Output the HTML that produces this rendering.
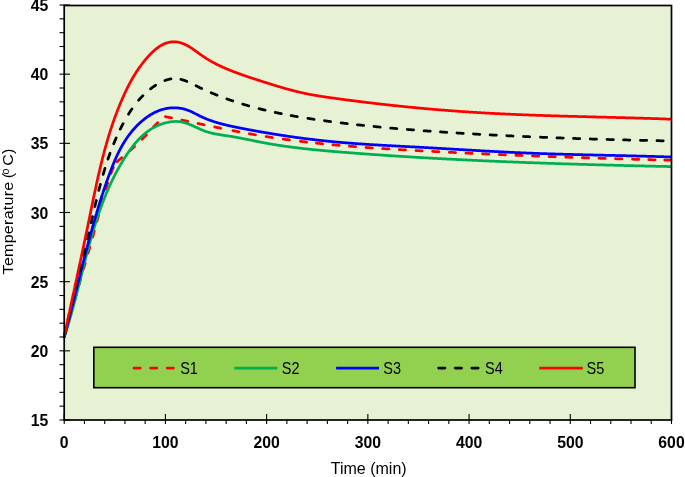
<!DOCTYPE html>
<html><head><meta charset="utf-8"><style>
html,body{margin:0;padding:0;background:#fff;}
body{width:685px;height:477px;overflow:hidden;}
svg{display:block;}
text{font-family:"Liberation Sans",sans-serif;}
svg{will-change:transform;}
</style></head><body>
<svg width="685" height="477" viewBox="0 0 685 477">
<rect x="0" y="0" width="685" height="477" fill="#ffffff"/>
<rect x="64.2" y="5.5" width="607.3" height="414.5" fill="#E7F1D4"/>
<g fill="none" stroke-linejoin="round">
<path d="M64.20,337.00 L64.70,335.23 L65.20,333.46 L65.70,331.70 L66.20,329.93 L66.70,328.16 L67.20,326.40 L67.70,324.63 L68.20,322.86 L68.70,321.10 L69.20,319.33 L69.70,317.57 L70.20,315.81 L70.70,314.04 L71.20,312.28 L71.70,310.51 L72.20,308.75 L72.70,306.99 L73.20,305.23 L73.70,303.47 L74.20,301.70 L74.70,299.94 L75.20,298.18 L75.70,296.42 L76.20,294.66 L76.70,292.90 L77.20,291.14 L77.70,289.38 L78.20,287.63 L78.70,285.87 L79.20,284.11 L79.70,282.35 L80.20,280.59 L80.70,278.84 L81.20,277.08 L81.70,275.32 L82.20,273.57 L82.70,271.81 L83.20,270.05 L83.70,268.30 L84.20,266.54 L84.70,264.79 L85.20,263.03 L85.70,261.28 L86.20,259.53 L86.70,257.77 L87.20,256.02 L87.70,254.27 L88.20,252.51 L88.70,250.76 L89.20,249.01 L89.70,247.26 L90.20,245.50 L90.70,243.75 L91.20,242.00 L91.70,240.25 L92.20,238.50 L92.70,236.75 L93.20,235.00 L93.70,233.24 L94.20,231.46 L94.70,229.66 L95.20,227.85 L95.70,226.02 L96.20,224.18 L96.70,222.33 L97.20,220.47 L97.70,218.60 L98.20,216.73 L98.70,214.86 L99.20,212.99 L99.70,211.12 L100.20,209.25 L100.70,207.38 L101.20,205.52 L101.70,203.67 L102.20,201.83 L102.70,200.01 L103.20,198.20 L103.70,196.40 L104.20,194.62 L104.70,192.86 L105.20,191.13 L105.70,189.41 L106.20,187.73 L106.70,186.07 L107.20,184.43 L107.70,182.84 L108.20,181.27 L108.70,179.74 L109.20,178.24 L109.70,176.79 L110.20,175.37 L110.70,174.00 L111.20,172.66 L111.70,171.34 L112.20,170.06 L112.70,168.84 L113.20,167.70 L113.70,166.64 L114.20,165.68 L114.70,164.82 L115.20,164.03 L115.70,163.31 L116.20,162.66 L116.70,162.09 L117.20,161.59 L117.70,161.14 L118.20,160.73 L118.70,160.32 L119.20,159.91 L119.70,159.48 L120.20,159.05 L120.70,158.61 L121.20,158.18 L121.70,157.75 L122.20,157.32 L122.70,156.89 L123.20,156.46 L123.70,156.03 L124.20,155.61 L124.70,155.18 L125.20,154.75 L125.70,154.32 L126.20,153.89 L126.70,153.46 L127.20,153.03 L127.70,152.60 L128.20,152.16 L128.70,151.73 L129.20,151.29 L129.70,150.85 L130.20,150.40 L130.70,149.96 L131.20,149.51 L131.70,149.06 L132.20,148.60 L132.70,148.14 L133.20,147.68 L133.70,147.22 L134.20,146.76 L134.70,146.29 L135.20,145.82 L135.70,145.35 L136.20,144.88 L136.70,144.41 L137.20,143.93 L137.70,143.46 L138.20,142.98 L138.70,142.50 L139.20,142.01 L139.70,141.53 L140.20,141.04 L140.70,140.55 L141.20,140.06 L141.70,139.56 L142.20,139.06 L142.70,138.56 L143.20,138.06 L143.70,137.56 L144.20,137.05 L144.70,136.54 L145.20,136.02 L145.70,135.49 L146.20,134.96 L146.70,134.43 L147.20,133.88 L147.70,133.34 L148.20,132.79 L148.70,132.24 L149.20,131.69 L149.70,131.13 L150.20,130.58 L150.70,130.03 L151.20,129.48 L151.70,128.93 L152.20,128.38 L152.70,127.84 L153.20,127.30 L153.70,126.77 L154.20,126.24 L154.70,125.72 L155.20,125.20 L155.70,124.70 L156.20,124.20 L156.70,123.70 L157.20,123.20 L157.70,122.71 L158.20,122.22 L158.70,121.73 L159.20,121.25 L159.70,120.77 L160.20,120.29 L160.70,119.81 L161.20,119.34 L161.70,118.87 L162.20,118.41 L162.70,117.94 L163.20,117.48 L163.70,117.03 L164.20,116.57 L164.50,116.50 L165.00,116.60 L165.50,116.70 L166.00,116.80 L166.50,116.90 L167.00,117.00 L167.50,117.10 L168.00,117.20 L168.50,117.31 L169.00,117.41 L169.50,117.51 L170.00,117.61 L170.50,117.71 L171.00,117.81 L171.50,117.92 L172.00,118.02 L172.50,118.12 L173.00,118.22 L173.50,118.33 L174.00,118.43 L174.50,118.53 L175.00,118.64 L175.50,118.74 L176.00,118.84 L176.50,118.95 L177.00,119.05 L177.50,119.16 L178.00,119.26 L178.50,119.36 L179.00,119.47 L179.50,119.57 L180.00,119.68 L180.50,119.78 L181.00,119.89 L181.50,119.99 L182.00,120.09 L182.50,120.20 L183.00,120.30 L183.50,120.41 L184.00,120.51 L184.50,120.62 L185.00,120.72 L185.50,120.83 L186.00,120.94 L186.50,121.04 L187.00,121.15 L187.50,121.25 L188.00,121.36 L188.50,121.46 L189.00,121.57 L189.50,121.67 L190.00,121.78 L190.50,121.89 L191.00,121.99 L191.50,122.10 L192.00,122.20 L192.50,122.31 L193.00,122.42 L193.50,122.52 L194.00,122.63 L194.50,122.73 L195.00,122.84 L195.50,122.94 L196.00,123.05 L196.50,123.16 L197.00,123.26 L197.50,123.37 L198.00,123.47 L198.50,123.58 L199.00,123.69 L199.50,123.79 L200.00,123.90 L200.50,124.00 L201.00,124.11 L201.50,124.22 L202.00,124.32 L202.50,124.43 L203.00,124.53 L203.50,124.64 L204.00,124.74 L204.50,124.85 L205.00,124.95 L205.50,125.06 L206.00,125.16 L206.50,125.27 L207.00,125.37 L207.50,125.48 L208.00,125.58 L208.50,125.69 L209.00,125.79 L209.50,125.90 L210.00,126.00 L210.50,126.11 L211.00,126.21 L211.50,126.32 L212.00,126.42 L212.50,126.53 L213.00,126.63 L213.50,126.73 L214.00,126.84 L214.50,126.94 L215.00,127.05 L215.50,127.15 L216.00,127.25 L216.50,127.36 L217.00,127.46 L217.50,127.56 L218.00,127.67 L218.50,127.77 L219.00,127.87 L219.50,127.97 L220.00,128.08 L220.50,128.18 L221.00,128.28 L221.50,128.38 L222.00,128.48 L222.50,128.59 L223.00,128.69 L223.50,128.79 L224.00,128.89 L224.50,128.99 L225.00,129.09 L225.50,129.19 L226.00,129.29 L226.50,129.39 L227.00,129.49 L227.50,129.59 L228.00,129.69 L228.50,129.79 L229.00,129.89 L229.50,129.99 L230.00,130.09 L230.50,130.19 L231.00,130.29 L231.50,130.39 L232.00,130.49 L232.50,130.58 L233.00,130.68 L233.50,130.78 L234.00,130.88 L234.50,130.97 L235.00,131.07 L235.50,131.17 L236.00,131.26 L236.50,131.36 L237.00,131.46 L237.50,131.55 L238.00,131.65 L238.50,131.74 L239.00,131.84 L239.50,131.93 L240.00,132.03 L240.50,132.12 L241.00,132.22 L241.50,132.31 L242.00,132.40 L242.50,132.50 L243.00,132.59 L243.50,132.68 L244.00,132.78 L244.50,132.87 L245.00,132.96 L245.50,133.05 L246.00,133.14 L246.50,133.24 L247.00,133.33 L247.50,133.42 L248.00,133.51 L248.50,133.60 L249.00,133.69 L249.50,133.78 L250.00,133.86 L250.50,133.95 L251.00,134.04 L251.50,134.13 L252.00,134.22 L252.50,134.31 L253.00,134.39 L253.50,134.48 L254.00,134.57 L254.50,134.65 L255.00,134.74 L255.50,134.82 L256.00,134.91 L256.50,134.99 L257.00,135.08 L257.50,135.16 L258.00,135.25 L258.50,135.33 L259.00,135.41 L259.50,135.50 L260.00,135.58 L260.50,135.66 L261.00,135.74 L261.50,135.83 L262.00,135.91 L262.50,135.99 L263.00,136.07 L263.50,136.15 L264.00,136.23 L264.50,136.31 L265.00,136.39 L265.50,136.47 L266.00,136.55 L266.50,136.63 L267.00,136.71 L267.50,136.78 L268.00,136.86 L268.50,136.94 L269.00,137.02 L269.50,137.09 L270.00,137.17 L270.50,137.25 L271.00,137.32 L271.50,137.40 L272.00,137.47 L272.50,137.55 L273.00,137.62 L273.50,137.70 L274.00,137.77 L274.50,137.85 L275.00,137.92 L275.50,138.00 L276.00,138.07 L276.50,138.14 L277.00,138.21 L277.50,138.29 L278.00,138.36 L278.50,138.43 L279.00,138.50 L279.50,138.57 L280.00,138.64 L280.50,138.72 L281.00,138.79 L281.50,138.86 L282.00,138.93 L282.50,139.00 L283.00,139.06 L283.50,139.13 L284.00,139.20 L284.50,139.27 L285.00,139.34 L285.50,139.41 L286.00,139.48 L286.50,139.54 L287.00,139.61 L287.50,139.68 L288.00,139.74 L288.50,139.81 L289.00,139.88 L289.50,139.94 L290.00,140.01 L290.50,140.07 L291.00,140.14 L291.50,140.20 L292.00,140.27 L292.50,140.33 L293.00,140.40 L293.50,140.46 L294.00,140.52 L294.50,140.59 L295.00,140.65 L295.50,140.71 L296.00,140.78 L296.50,140.84 L297.00,140.90 L297.50,140.96 L298.00,141.02 L298.50,141.09 L299.00,141.15 L299.50,141.21 L300.00,141.27 L300.50,141.33 L301.00,141.39 L301.50,141.45 L302.00,141.51 L302.50,141.57 L303.00,141.63 L303.50,141.69 L304.00,141.74 L304.50,141.80 L305.00,141.86 L305.50,141.92 L306.00,141.98 L306.50,142.04 L307.00,142.09 L307.50,142.15 L308.00,142.21 L308.50,142.26 L309.00,142.32 L309.50,142.38 L310.00,142.43 L310.50,142.49 L311.00,142.54 L311.50,142.60 L312.00,142.65 L312.50,142.71 L313.00,142.76 L313.50,142.82 L314.00,142.87 L314.50,142.93 L315.00,142.98 L315.50,143.03 L316.00,143.09 L316.50,143.14 L317.00,143.19 L317.50,143.24 L318.00,143.30 L318.50,143.35 L319.00,143.40 L319.50,143.45 L320.00,143.50 L320.50,143.56 L321.00,143.61 L321.50,143.66 L322.00,143.71 L322.50,143.76 L323.00,143.81 L323.50,143.86 L324.00,143.91 L324.50,143.96 L325.00,144.01 L325.50,144.06 L326.00,144.11 L326.50,144.16 L327.00,144.21 L327.50,144.25 L328.00,144.30 L328.50,144.35 L329.00,144.40 L329.50,144.45 L330.00,144.49 L330.50,144.54 L331.00,144.59 L331.50,144.64 L332.00,144.68 L332.50,144.73 L333.00,144.78 L333.50,144.82 L334.00,144.87 L334.50,144.91 L335.00,144.96 L335.50,145.01 L336.00,145.05 L336.50,145.10 L337.00,145.14 L337.50,145.19 L338.00,145.23 L338.50,145.28 L339.00,145.32 L339.50,145.36 L340.00,145.41 L340.50,145.45 L341.00,145.50 L341.50,145.54 L342.00,145.58 L342.50,145.63 L343.00,145.67 L343.50,145.71 L344.00,145.75 L344.50,145.80 L345.00,145.84 L345.50,145.88 L346.00,145.92 L346.50,145.96 L347.00,146.01 L347.50,146.05 L348.00,146.09 L348.50,146.13 L349.00,146.17 L349.50,146.21 L350.00,146.25 L350.50,146.29 L351.00,146.33 L351.50,146.37 L352.00,146.41 L352.50,146.45 L353.00,146.49 L353.50,146.53 L354.00,146.57 L354.50,146.61 L355.00,146.65 L355.50,146.69 L356.00,146.73 L356.50,146.77 L357.00,146.80 L357.50,146.84 L358.00,146.88 L358.50,146.92 L359.00,146.96 L359.50,146.99 L360.00,147.03 L360.50,147.07 L361.00,147.11 L361.50,147.14 L362.00,147.18 L362.50,147.22 L363.00,147.26 L363.50,147.29 L364.00,147.33 L364.50,147.36 L365.00,147.40 L365.50,147.44 L366.00,147.47 L366.50,147.51 L367.00,147.54 L367.50,147.58 L368.00,147.62 L368.50,147.65 L369.00,147.69 L369.50,147.72 L370.00,147.76 L370.50,147.79 L371.00,147.83 L371.50,147.86 L372.00,147.90 L372.50,147.93 L373.00,147.96 L373.50,148.00 L374.00,148.03 L374.50,148.07 L375.00,148.10 L375.50,148.13 L376.00,148.17 L376.50,148.20 L377.00,148.23 L377.50,148.27 L378.00,148.30 L378.50,148.33 L379.00,148.37 L379.50,148.40 L380.00,148.43 L380.50,148.46 L381.00,148.50 L381.50,148.53 L382.00,148.56 L382.50,148.59 L383.00,148.62 L383.50,148.66 L384.00,148.69 L384.50,148.72 L385.00,148.75 L385.50,148.78 L386.00,148.81 L386.50,148.85 L387.00,148.88 L387.50,148.91 L388.00,148.94 L388.50,148.97 L389.00,149.00 L389.50,149.03 L390.00,149.06 L390.50,149.09 L391.00,149.12 L391.50,149.15 L392.00,149.18 L392.50,149.21 L393.00,149.25 L393.50,149.28 L394.00,149.31 L394.50,149.33 L395.00,149.36 L395.50,149.39 L396.00,149.42 L396.50,149.45 L397.00,149.48 L397.50,149.51 L398.00,149.54 L398.50,149.57 L399.00,149.60 L399.50,149.63 L400.00,149.66 L400.50,149.69 L401.00,149.72 L401.50,149.75 L402.00,149.77 L402.50,149.80 L403.00,149.83 L403.50,149.86 L404.00,149.89 L404.50,149.92 L405.00,149.95 L405.50,149.97 L406.00,150.00 L406.50,150.03 L407.00,150.06 L407.50,150.09 L408.00,150.11 L408.50,150.14 L409.00,150.17 L409.50,150.20 L410.00,150.23 L410.50,150.25 L411.00,150.28 L411.50,150.31 L412.00,150.34 L412.50,150.36 L413.00,150.39 L413.50,150.42 L414.00,150.44 L414.50,150.47 L415.00,150.50 L415.50,150.53 L416.00,150.55 L416.50,150.58 L417.00,150.61 L417.50,150.63 L418.00,150.66 L418.50,150.69 L419.00,150.72 L419.50,150.74 L420.00,150.77 L420.50,150.80 L421.00,150.82 L421.50,150.85 L422.00,150.88 L422.50,150.90 L423.00,150.93 L423.50,150.96 L424.00,150.98 L424.50,151.01 L425.00,151.03 L425.50,151.06 L426.00,151.09 L426.50,151.11 L427.00,151.14 L427.50,151.17 L428.00,151.19 L428.50,151.22 L429.00,151.24 L429.50,151.27 L430.00,151.30 L430.50,151.32 L431.00,151.35 L431.50,151.37 L432.00,151.40 L432.50,151.43 L433.00,151.45 L433.50,151.48 L434.00,151.50 L434.50,151.53 L435.00,151.55 L435.50,151.58 L436.00,151.61 L436.50,151.63 L437.00,151.66 L437.50,151.68 L438.00,151.71 L438.50,151.73 L439.00,151.76 L439.50,151.78 L440.00,151.81 L440.50,151.83 L441.00,151.86 L441.50,151.89 L442.00,151.91 L442.50,151.94 L443.00,151.96 L443.50,151.99 L444.00,152.01 L444.50,152.04 L445.00,152.06 L445.50,152.09 L446.00,152.11 L446.50,152.14 L447.00,152.16 L447.50,152.19 L448.00,152.21 L448.50,152.23 L449.00,152.26 L449.50,152.28 L450.00,152.31 L450.50,152.33 L451.00,152.36 L451.50,152.38 L452.00,152.41 L452.50,152.43 L453.00,152.46 L453.50,152.48 L454.00,152.50 L454.50,152.53 L455.00,152.55 L455.50,152.58 L456.00,152.60 L456.50,152.63 L457.00,152.65 L457.50,152.67 L458.00,152.70 L458.50,152.72 L459.00,152.75 L459.50,152.77 L460.00,152.79 L460.50,152.82 L461.00,152.84 L461.50,152.87 L462.00,152.89 L462.50,152.91 L463.00,152.94 L463.50,152.96 L464.00,152.98 L464.50,153.01 L465.00,153.03 L465.50,153.06 L466.00,153.08 L466.50,153.10 L467.00,153.13 L467.50,153.15 L468.00,153.17 L468.50,153.20 L469.00,153.22 L469.50,153.24 L470.00,153.27 L470.50,153.29 L471.00,153.31 L471.50,153.34 L472.00,153.36 L472.50,153.38 L473.00,153.40 L473.50,153.43 L474.00,153.45 L474.50,153.47 L475.00,153.50 L475.50,153.52 L476.00,153.54 L476.50,153.57 L477.00,153.59 L477.50,153.61 L478.00,153.63 L478.50,153.66 L479.00,153.68 L479.50,153.70 L480.00,153.72 L480.50,153.75 L481.00,153.77 L481.50,153.79 L482.00,153.81 L482.50,153.84 L483.00,153.86 L483.50,153.88 L484.00,153.90 L484.50,153.93 L485.00,153.95 L485.50,153.97 L486.00,153.99 L486.50,154.01 L487.00,154.04 L487.50,154.06 L488.00,154.08 L488.50,154.10 L489.00,154.13 L489.50,154.15 L490.00,154.17 L490.50,154.19 L491.00,154.21 L491.50,154.23 L492.00,154.26 L492.50,154.28 L493.00,154.30 L493.50,154.32 L494.00,154.34 L494.50,154.37 L495.00,154.39 L495.50,154.41 L496.00,154.43 L496.50,154.45 L497.00,154.47 L497.50,154.49 L498.00,154.52 L498.50,154.54 L499.00,154.56 L499.50,154.58 L500.00,154.60 L500.50,154.62 L501.00,154.64 L501.50,154.67 L502.00,154.69 L502.50,154.71 L503.00,154.73 L503.50,154.75 L504.00,154.77 L504.50,154.79 L505.00,154.81 L505.50,154.83 L506.00,154.85 L506.50,154.88 L507.00,154.90 L507.50,154.92 L508.00,154.94 L508.50,154.96 L509.00,154.98 L509.50,155.00 L510.00,155.02 L510.50,155.04 L511.00,155.06 L511.50,155.08 L512.00,155.10 L512.50,155.12 L513.00,155.14 L513.50,155.17 L514.00,155.19 L514.50,155.21 L515.00,155.23 L515.50,155.25 L516.00,155.27 L516.50,155.29 L517.00,155.31 L517.50,155.33 L518.00,155.35 L518.50,155.37 L519.00,155.39 L519.50,155.41 L520.00,155.43 L520.50,155.45 L521.00,155.47 L521.50,155.49 L522.00,155.51 L522.50,155.53 L523.00,155.55 L523.50,155.57 L524.00,155.59 L524.50,155.61 L525.00,155.63 L525.50,155.65 L526.00,155.67 L526.50,155.69 L527.00,155.71 L527.50,155.73 L528.00,155.75 L528.50,155.77 L529.00,155.78 L529.50,155.80 L530.00,155.82 L530.50,155.84 L531.00,155.86 L531.50,155.88 L532.00,155.90 L532.50,155.92 L533.00,155.94 L533.50,155.96 L534.00,155.98 L534.50,156.00 L535.00,156.02 L535.50,156.04 L536.00,156.06 L536.50,156.07 L537.00,156.09 L537.50,156.11 L538.00,156.13 L538.50,156.15 L539.00,156.17 L539.50,156.19 L540.00,156.21 L540.50,156.23 L541.00,156.24 L541.50,156.26 L542.00,156.28 L542.50,156.30 L543.00,156.32 L543.50,156.34 L544.00,156.36 L544.50,156.38 L545.00,156.39 L545.50,156.41 L546.00,156.43 L546.50,156.45 L547.00,156.47 L547.50,156.49 L548.00,156.51 L548.50,156.52 L549.00,156.54 L549.50,156.56 L550.00,156.58 L550.50,156.60 L551.00,156.61 L551.50,156.63 L552.00,156.65 L552.50,156.67 L553.00,156.69 L553.50,156.71 L554.00,156.72 L554.50,156.74 L555.00,156.76 L555.50,156.78 L556.00,156.80 L556.50,156.81 L557.00,156.83 L557.50,156.85 L558.00,156.87 L558.50,156.89 L559.00,156.90 L559.50,156.92 L560.00,156.94 L560.50,156.96 L561.00,156.97 L561.50,156.99 L562.00,157.01 L562.50,157.03 L563.00,157.04 L563.50,157.06 L564.00,157.08 L564.50,157.10 L565.00,157.11 L565.50,157.13 L566.00,157.15 L566.50,157.17 L567.00,157.18 L567.50,157.20 L568.00,157.22 L568.50,157.24 L569.00,157.25 L569.50,157.27 L570.00,157.29 L570.50,157.30 L571.00,157.32 L571.50,157.34 L572.00,157.36 L572.50,157.37 L573.00,157.39 L573.50,157.41 L574.00,157.42 L574.50,157.44 L575.00,157.46 L575.50,157.47 L576.00,157.49 L576.50,157.51 L577.00,157.52 L577.50,157.54 L578.00,157.56 L578.50,157.57 L579.00,157.59 L579.50,157.61 L580.00,157.62 L580.50,157.64 L581.00,157.66 L581.50,157.67 L582.00,157.69 L582.50,157.71 L583.00,157.72 L583.50,157.74 L584.00,157.76 L584.50,157.77 L585.00,157.79 L585.50,157.81 L586.00,157.82 L586.50,157.84 L587.00,157.85 L587.50,157.87 L588.00,157.89 L588.50,157.90 L589.00,157.92 L589.50,157.94 L590.00,157.95 L590.50,157.97 L591.00,157.98 L591.50,158.00 L592.00,158.02 L592.50,158.03 L593.00,158.05 L593.50,158.06 L594.00,158.08 L594.50,158.10 L595.00,158.11 L595.50,158.13 L596.00,158.14 L596.50,158.16 L597.00,158.17 L597.50,158.19 L598.00,158.21 L598.50,158.22 L599.00,158.24 L599.50,158.25 L600.00,158.27 L600.50,158.28 L601.00,158.30 L601.50,158.31 L602.00,158.33 L602.50,158.35 L603.00,158.36 L603.50,158.38 L604.00,158.39 L604.50,158.41 L605.00,158.42 L605.50,158.44 L606.00,158.45 L606.50,158.47 L607.00,158.48 L607.50,158.50 L608.00,158.51 L608.50,158.53 L609.00,158.54 L609.50,158.56 L610.00,158.57 L610.50,158.59 L611.00,158.60 L611.50,158.62 L612.00,158.63 L612.50,158.65 L613.00,158.66 L613.50,158.68 L614.00,158.69 L614.50,158.71 L615.00,158.72 L615.50,158.74 L616.00,158.75 L616.50,158.77 L617.00,158.78 L617.50,158.80 L618.00,158.81 L618.50,158.83 L619.00,158.84 L619.50,158.86 L620.00,158.87 L620.50,158.88 L621.00,158.90 L621.50,158.91 L622.00,158.93 L622.50,158.94 L623.00,158.96 L623.50,158.97 L624.00,158.99 L624.50,159.00 L625.00,159.01 L625.50,159.03 L626.00,159.04 L626.50,159.06 L627.00,159.07 L627.50,159.09 L628.00,159.10 L628.50,159.11 L629.00,159.13 L629.50,159.14 L630.00,159.16 L630.50,159.17 L631.00,159.18 L631.50,159.20 L632.00,159.21 L632.50,159.23 L633.00,159.24 L633.50,159.25 L634.00,159.27 L634.50,159.28 L635.00,159.30 L635.50,159.31 L636.00,159.32 L636.50,159.34 L637.00,159.35 L637.50,159.36 L638.00,159.38 L638.50,159.39 L639.00,159.41 L639.50,159.42 L640.00,159.43 L640.50,159.45 L641.00,159.46 L641.50,159.47 L642.00,159.49 L642.50,159.50 L643.00,159.51 L643.50,159.53 L644.00,159.54 L644.50,159.55 L645.00,159.57 L645.50,159.58 L646.00,159.59 L646.50,159.61 L647.00,159.62 L647.50,159.63 L648.00,159.65 L648.50,159.66 L649.00,159.67 L649.50,159.69 L650.00,159.70 L650.50,159.71 L651.00,159.73 L651.50,159.74 L652.00,159.75 L652.50,159.77 L653.00,159.78 L653.50,159.79 L654.00,159.80 L654.50,159.82 L655.00,159.83 L655.50,159.84 L656.00,159.86 L656.50,159.87 L657.00,159.88 L657.50,159.89 L658.00,159.91 L658.50,159.92 L659.00,159.93 L659.50,159.95 L660.00,159.96 L660.50,159.97 L661.00,159.98 L661.50,160.00 L662.00,160.01 L662.50,160.02 L663.00,160.03 L663.50,160.05 L664.00,160.06 L664.50,160.07 L665.00,160.08 L665.50,160.10 L666.00,160.11 L666.50,160.12 L667.00,160.13 L667.50,160.15 L668.00,160.16 L668.50,160.17 L669.00,160.18 L669.50,160.19 L670.00,160.21 L670.50,160.22 L671.00,160.23 L671.50,160.24" stroke="#FF0000" stroke-width="2.75" stroke-dasharray="0.00 4.31 6.25 10.35 6.25 10.35 6.25 10.35 6.25 10.35 6.25 10.35 6.25 10.35 6.25 10.35 6.25 10.35 6.25 10.35 6.25 10.35 6.25 6.90 6.25 10.68 6.25 10.50 6.25 10.17 6.25 10.25 6.25 10.40 6.25 10.46 6.25 10.76 6.25 12.26 6.25 10.53 6.25 10.73 6.25 11.06 6.25 11.06 6.25 9.85 6.25 10.33 6.25 10.31 6.25 10.43 6.25 10.43 6.25 10.43 6.25 10.43 6.25 10.43 6.25 10.42 6.25 10.42 6.25 10.40 6.25 10.40 6.25 10.40 6.25 10.40 6.25 10.36 6.25 10.46 6.25 10.36 6.25 10.36 6.25 10.36 6.25 10.71 6.25 10.06 6.25 9.66 6.25 50.53" stroke-linecap="round"/>
<path d="M64.20,337.00 L64.36,336.53 L64.51,336.05 L64.67,335.58 L64.83,335.10 L64.98,334.63 L65.14,334.16 L65.29,333.68 L65.44,333.21 L65.60,332.73 L65.75,332.26 L65.90,331.78 L66.06,331.31 L66.21,330.83 L66.36,330.35 L66.51,329.88 L66.66,329.40 L66.81,328.92 L66.96,328.45 L67.10,327.97 L67.25,327.49 L67.40,327.02 L67.55,326.54 L67.69,326.06 L67.84,325.58 L67.98,325.10 L68.13,324.63 L68.27,324.15 L68.42,323.67 L68.56,323.19 L68.70,322.71 L68.85,322.23 L68.99,321.75 L69.13,321.27 L69.27,320.79 L69.41,320.31 L69.55,319.83 L69.69,319.35 L69.83,318.87 L69.97,318.39 L70.11,317.91 L70.25,317.43 L70.39,316.95 L70.53,316.47 L70.66,315.99 L70.80,315.51 L70.94,315.03 L71.07,314.55 L71.21,314.06 L71.34,313.58 L71.48,313.10 L71.61,312.62 L71.75,312.14 L71.88,311.65 L72.02,311.17 L72.15,310.69 L72.28,310.21 L72.42,309.72 L72.55,309.24 L72.68,308.76 L72.81,308.27 L72.95,307.79 L73.08,307.31 L73.21,306.82 L73.34,306.34 L73.47,305.86 L73.60,305.37 L73.73,304.89 L73.86,304.41 L73.99,303.92 L74.12,303.44 L74.25,302.95 L74.38,302.47 L74.50,301.98 L74.63,301.50 L74.76,301.01 L74.89,300.53 L75.02,300.05 L75.14,299.56 L75.27,299.08 L75.40,298.59 L75.52,298.11 L75.65,297.62 L75.78,297.13 L75.90,296.65 L76.03,296.16 L76.15,295.68 L76.28,295.19 L76.40,294.71 L76.53,294.22 L76.65,293.74 L76.78,293.25 L76.90,292.76 L77.03,292.28 L77.15,291.79 L77.28,291.31 L77.40,290.82 L77.53,290.33 L77.65,289.85 L77.77,289.36 L77.90,288.88 L78.02,288.39 L78.14,287.90 L78.27,287.42 L78.39,286.93 L78.51,286.44 L78.64,285.96 L78.76,285.47 L78.88,284.98 L79.00,284.50 L79.13,284.01 L79.25,283.52 L79.37,283.04 L79.49,282.55 L79.62,282.06 L79.74,281.58 L79.86,281.09 L79.98,280.60 L80.11,280.12 L80.23,279.63 L80.35,279.14 L80.47,278.66 L80.59,278.17 L80.72,277.68 L80.84,277.20 L80.96,276.71 L81.08,276.22 L81.20,275.74 L81.33,275.25 L81.45,274.76 L81.57,274.28 L81.69,273.79 L81.82,273.30 L81.94,272.82 L82.06,272.33 L82.18,271.84 L82.30,271.36 L82.43,270.87 L82.55,270.38 L82.67,269.90 L82.79,269.41 L82.92,268.92 L83.04,268.44 L83.16,267.95 L83.29,267.46 L83.41,266.98 L83.53,266.49 L83.65,266.00 L83.78,265.52 L83.90,265.03 L84.02,264.55 L84.15,264.06 L84.27,263.57 L84.40,263.09 L84.52,262.60 L84.64,262.12 L84.77,261.63 L84.89,261.14 L85.02,260.66 L85.14,260.17 L85.27,259.69 L85.39,259.20 L85.52,258.72 L85.64,258.23 L85.77,257.74 L85.89,257.26 L86.02,256.77 L86.15,256.29 L86.27,255.80 L86.40,255.32 L86.52,254.83 L86.65,254.35 L86.78,253.86 L86.91,253.38 L87.03,252.89 L87.16,252.41 L87.29,251.93 L87.42,251.44 L87.55,250.96 L87.67,250.47 L87.80,249.99 L87.93,249.51 L88.06,249.02 L88.19,248.54 L88.32,248.05 L88.45,247.57 L88.58,247.09 L88.71,246.60 L88.85,246.12 L88.98,245.64 L89.11,245.15 L89.24,244.67 L89.37,244.19 L89.51,243.71 L89.64,243.22 L89.77,242.74 L89.91,242.26 L90.04,241.78 L90.17,241.29 L90.31,240.81 L90.44,240.33 L90.58,239.85 L90.71,239.37 L90.85,238.89 L90.99,238.41 L91.12,237.92 L91.26,237.44 L91.40,236.96 L91.54,236.48 L91.67,236.00 L91.81,235.52 L91.95,235.04 L92.09,234.56 L92.23,234.08 L92.37,233.60 L92.51,233.12 L92.65,232.64 L92.79,232.16 L92.94,231.69 L93.08,231.21 L93.22,230.73 L93.36,230.25 L93.51,229.77 L93.65,229.29 L93.80,228.81 L93.94,228.34 L94.09,227.86 L94.23,227.38 L94.38,226.90 L94.53,226.43 L94.67,225.95 L94.82,225.47 L94.97,225.00 L95.12,224.52 L95.27,224.04 L95.42,223.57 L95.57,223.09 L95.72,222.62 L95.87,222.14 L96.02,221.67 L96.17,221.19 L96.33,220.72 L96.48,220.24 L96.64,219.77 L96.79,219.29 L96.95,218.82 L97.10,218.35 L97.26,217.87 L97.41,217.40 L97.57,216.93 L97.73,216.45 L97.89,215.98 L98.05,215.51 L98.21,215.04 L98.37,214.56 L98.53,214.09 L98.69,213.62 L98.85,213.15 L99.01,212.68 L99.18,212.21 L99.34,211.74 L99.51,211.27 L99.67,210.80 L99.84,210.33 L100.00,209.86 L100.17,209.39 L100.34,208.92 L100.51,208.45 L100.68,207.98 L100.85,207.51 L101.02,207.05 L101.19,206.58 L101.36,206.11 L101.53,205.64 L101.71,205.18 L101.88,204.71 L102.05,204.24 L102.23,203.78 L102.40,203.31 L102.58,202.85 L102.76,202.38 L102.94,201.92 L103.12,201.45 L103.30,200.99 L103.48,200.52 L103.66,200.06 L103.84,199.59 L104.02,199.13 L104.20,198.67 L104.39,198.20 L104.57,197.74 L104.76,197.28 L104.94,196.82 L105.13,196.36 L105.32,195.90 L105.51,195.43 L105.70,194.97 L105.89,194.51 L106.08,194.05 L106.27,193.59 L106.46,193.13 L106.66,192.67 L106.85,192.22 L107.05,191.76 L107.24,191.30 L107.44,190.84 L107.64,190.38 L107.83,189.93 L108.03,189.47 L108.23,189.01 L108.43,188.56 L108.64,188.10 L108.84,187.64 L109.04,187.19 L109.25,186.73 L109.45,186.28 L109.66,185.82 L109.86,185.37 L110.07,184.92 L110.28,184.46 L110.49,184.01 L110.70,183.56 L110.91,183.11 L111.12,182.65 L111.34,182.20 L111.55,181.75 L111.77,181.30 L111.98,180.85 L112.20,180.40 L112.42,179.95 L112.64,179.50 L112.86,179.05 L113.08,178.60 L113.30,178.15 L113.52,177.71 L113.75,177.26 L113.97,176.81 L114.20,176.37 L114.42,175.92 L114.65,175.47 L114.88,175.03 L115.11,174.58 L115.34,174.14 L115.57,173.69 L115.80,173.25 L116.04,172.80 L116.27,172.36 L116.51,171.92 L116.74,171.48 L116.98,171.03 L117.22,170.59 L117.46,170.15 L117.70,169.71 L117.94,169.27 L118.19,168.83 L118.43,168.39 L118.67,167.95 L118.92,167.51 L119.17,167.07 L119.42,166.63 L119.67,166.20 L119.92,165.76 L120.17,165.32 L120.42,164.89 L120.67,164.45 L120.93,164.01 L121.18,163.58 L121.44,163.14 L121.70,162.71 L121.96,162.28 L122.22,161.84 L122.48,161.41 L122.74,160.98 L123.01,160.54 L123.27,160.11 L123.54,159.68 L123.81,159.25 L124.07,158.82 L124.34,158.39 L124.61,157.96 L124.89,157.53 L125.16,157.11 L125.44,156.68 L125.71,156.25 L125.99,155.83 L126.27,155.40 L126.55,154.98 L126.83,154.55 L127.11,154.13 L127.39,153.71 L127.68,153.29 L127.96,152.87 L128.25,152.45 L128.54,152.04 L128.83,151.62 L129.12,151.21 L129.42,150.79 L129.71,150.38 L130.01,149.97 L130.31,149.56 L130.61,149.15 L130.91,148.75 L131.21,148.34 L131.52,147.94 L131.82,147.54 L132.13,147.14 L132.44,146.74 L132.75,146.34 L133.06,145.95 L133.37,145.55 L133.69,145.16 L134.00,144.77 L134.32,144.38 L134.64,144.00 L134.97,143.61 L135.29,143.23 L135.61,142.85 L135.94,142.47 L136.27,142.09 L136.60,141.72 L136.93,141.35 L137.27,140.98 L137.60,140.61 L137.94,140.24 L138.28,139.88 L138.62,139.52 L138.97,139.16 L139.31,138.80 L139.66,138.45 L140.01,138.10 L140.36,137.75 L140.71,137.40 L141.07,137.06 L141.42,136.72 L141.78,136.38 L142.14,136.05 L142.51,135.71 L142.87,135.38 L143.24,135.06 L143.61,134.73 L143.98,134.41 L144.35,134.09 L144.73,133.78 L145.10,133.46 L145.48,133.15 L145.86,132.85 L146.25,132.54 L146.63,132.24 L147.02,131.95 L147.41,131.65 L147.80,131.36 L148.20,131.08 L148.60,130.79 L148.99,130.51 L149.40,130.24 L149.80,129.96 L150.21,129.69 L150.61,129.43 L151.02,129.16 L151.44,128.90 L151.85,128.65 L152.27,128.40 L152.69,128.15 L153.11,127.91 L153.54,127.66 L153.96,127.43 L154.39,127.20 L154.82,126.97 L155.26,126.74 L155.70,126.52 L156.13,126.30 L156.58,126.09 L157.02,125.88 L157.47,125.68 L157.92,125.48 L158.37,125.28 L158.82,125.09 L159.28,124.90 L159.74,124.72 L160.20,124.54 L160.67,124.37 L161.13,124.20 L161.60,124.03 L162.08,123.87 L162.55,123.71 L163.03,123.56 L163.51,123.41 L163.99,123.27 L164.48,123.13 L164.97,123.00 L165.46,122.87 L165.96,122.75 L166.45,122.63 L166.95,122.52 L167.46,122.41 L167.96,122.30 L168.47,122.21 L168.98,122.11 L169.49,122.03 L170.00,121.95 L170.51,121.87 L171.03,121.80 L171.54,121.74 L172.06,121.68 L172.57,121.63 L173.09,121.59 L173.61,121.55 L174.12,121.52 L174.64,121.50 L175.15,121.49 L175.67,121.48 L176.18,121.48 L176.69,121.48 L177.21,121.50 L177.72,121.52 L178.22,121.55 L178.73,121.59 L179.23,121.64 L179.73,121.69 L180.23,121.76 L180.73,121.83 L181.22,121.91 L181.71,122.00 L182.20,122.10 L182.69,122.20 L183.17,122.31 L183.66,122.43 L184.14,122.55 L184.61,122.69 L185.09,122.82 L185.56,122.97 L186.04,123.12 L186.51,123.27 L186.98,123.43 L187.45,123.60 L187.92,123.77 L188.38,123.94 L188.85,124.12 L189.31,124.30 L189.77,124.49 L190.24,124.68 L190.70,124.87 L191.16,125.07 L191.62,125.26 L192.08,125.46 L192.54,125.67 L193.00,125.87 L193.45,126.08 L193.91,126.29 L194.37,126.49 L194.83,126.70 L195.28,126.92 L195.74,127.13 L196.20,127.34 L196.65,127.55 L197.11,127.76 L197.57,127.97 L198.02,128.18 L198.48,128.39 L198.94,128.60 L199.40,128.81 L199.86,129.02 L200.32,129.22 L200.78,129.42 L201.24,129.62 L201.70,129.82 L202.16,130.01 L202.62,130.20 L203.09,130.39 L203.55,130.58 L204.02,130.76 L204.48,130.94 L204.95,131.11 L205.42,131.28 L205.89,131.44 L206.36,131.60 L206.84,131.76 L207.31,131.91 L207.79,132.05 L208.26,132.20 L208.74,132.34 L209.22,132.47 L209.70,132.60 L210.18,132.73 L210.66,132.86 L211.14,132.98 L211.62,133.10 L212.11,133.21 L212.59,133.33 L213.08,133.43 L213.56,133.54 L214.05,133.65 L214.54,133.75 L215.03,133.85 L215.52,133.94 L216.01,134.04 L216.50,134.13 L216.99,134.22 L217.48,134.31 L217.97,134.40 L218.46,134.48 L218.96,134.57 L219.45,134.65 L219.95,134.73 L220.44,134.81 L220.93,134.89 L221.43,134.97 L221.92,135.05 L222.42,135.12 L222.92,135.20 L223.41,135.27 L223.91,135.35 L224.40,135.42 L224.90,135.49 L225.40,135.57 L225.89,135.64 L226.39,135.72 L226.89,135.79 L227.38,135.86 L227.88,135.94 L228.37,136.01 L228.87,136.09 L229.37,136.17 L229.86,136.24 L230.36,136.32 L230.85,136.40 L231.35,136.48 L231.84,136.56 L232.34,136.65 L232.83,136.73 L233.33,136.81 L233.82,136.90 L234.32,136.98 L234.81,137.07 L235.31,137.16 L235.80,137.25 L236.29,137.33 L236.79,137.42 L237.28,137.51 L237.77,137.61 L238.27,137.70 L238.76,137.79 L239.25,137.88 L239.74,137.97 L240.24,138.07 L240.73,138.16 L241.22,138.26 L241.71,138.35 L242.20,138.45 L242.70,138.54 L243.19,138.64 L243.68,138.74 L244.17,138.83 L244.66,138.93 L245.15,139.03 L245.65,139.13 L246.14,139.23 L246.63,139.33 L247.12,139.42 L247.61,139.52 L248.10,139.62 L248.59,139.72 L249.08,139.82 L249.57,139.92 L250.06,140.02 L250.56,140.12 L251.05,140.22 L251.54,140.32 L252.03,140.42 L252.52,140.52 L253.01,140.62 L253.50,140.72 L253.99,140.82 L254.48,140.92 L254.97,141.02 L255.46,141.12 L255.95,141.22 L256.44,141.32 L256.93,141.41 L257.43,141.51 L257.92,141.61 L258.41,141.71 L258.90,141.81 L259.39,141.90 L259.88,142.00 L260.37,142.09 L260.86,142.19 L261.35,142.29 L261.84,142.38 L262.33,142.48 L262.83,142.57 L263.32,142.66 L263.81,142.75 L264.30,142.85 L264.79,142.94 L265.28,143.03 L265.78,143.12 L266.27,143.21 L266.76,143.30 L267.25,143.39 L267.74,143.48 L268.24,143.56 L268.73,143.65 L269.22,143.74 L269.71,143.82 L270.21,143.91 L270.70,143.99 L271.19,144.08 L271.68,144.16 L272.18,144.24 L272.67,144.33 L273.16,144.41 L273.66,144.49 L274.15,144.57 L274.64,144.65 L275.14,144.73 L275.63,144.81 L276.12,144.89 L276.62,144.97 L277.11,145.05 L277.60,145.13 L278.10,145.20 L278.59,145.28 L279.08,145.36 L279.58,145.43 L280.07,145.51 L280.57,145.58 L281.06,145.66 L281.55,145.73 L282.05,145.80 L282.54,145.88 L283.04,145.95 L283.53,146.02 L284.03,146.09 L284.52,146.16 L285.02,146.24 L285.51,146.31 L286.01,146.38 L286.50,146.44 L286.99,146.51 L287.49,146.58 L287.98,146.65 L288.48,146.72 L288.98,146.78 L289.47,146.85 L289.97,146.92 L290.46,146.98 L290.96,147.05 L291.45,147.11 L291.95,147.18 L292.44,147.24 L292.94,147.31 L293.43,147.37 L293.93,147.43 L294.43,147.50 L294.92,147.56 L295.42,147.62 L295.91,147.68 L296.41,147.74 L296.91,147.81 L297.40,147.87 L297.90,147.93 L298.39,147.99 L298.89,148.04 L299.39,148.10 L299.88,148.16 L300.38,148.22 L300.88,148.28 L301.37,148.34 L301.87,148.39 L302.36,148.45 L302.86,148.51 L303.36,148.56 L303.85,148.62 L304.35,148.68 L304.85,148.73 L305.34,148.79 L305.84,148.84 L306.34,148.89 L306.84,148.95 L307.33,149.00 L307.83,149.06 L308.33,149.11 L308.82,149.16 L309.32,149.21 L309.82,149.27 L310.32,149.32 L310.81,149.37 L311.31,149.42 L311.81,149.47 L312.30,149.52 L312.80,149.57 L313.30,149.62 L313.80,149.67 L314.29,149.72 L314.79,149.77 L315.29,149.82 L315.79,149.87 L316.29,149.92 L316.78,149.97 L317.28,150.02 L317.78,150.06 L318.28,150.11 L318.77,150.16 L319.27,150.21 L319.77,150.25 L320.27,150.30 L320.77,150.35 L321.26,150.39 L321.76,150.44 L322.26,150.49 L322.76,150.53 L323.26,150.58 L323.75,150.62 L324.25,150.67 L324.75,150.71 L325.25,150.76 L325.75,150.80 L326.25,150.85 L326.74,150.89 L327.24,150.93 L327.74,150.98 L328.24,151.02 L328.74,151.06 L329.23,151.11 L329.73,151.15 L330.23,151.19 L330.73,151.24 L331.23,151.28 L331.73,151.32 L332.23,151.36 L332.72,151.40 L333.22,151.45 L333.72,151.49 L334.22,151.53 L334.72,151.57 L335.22,151.61 L335.72,151.65 L336.21,151.70 L336.71,151.74 L337.21,151.78 L337.71,151.82 L338.21,151.86 L338.71,151.90 L339.21,151.94 L339.70,151.98 L340.20,152.02 L340.70,152.06 L341.20,152.10 L341.70,152.14 L342.20,152.18 L342.70,152.22 L343.20,152.26 L343.69,152.30 L344.19,152.34 L344.69,152.38 L345.19,152.42 L345.69,152.45 L346.19,152.49 L346.69,152.53 L347.19,152.57 L347.68,152.61 L348.18,152.65 L348.68,152.69 L349.18,152.73 L349.68,152.77 L350.18,152.80 L350.68,152.84 L351.18,152.88 L351.67,152.92 L352.17,152.96 L352.67,152.99 L353.17,153.03 L353.67,153.07 L354.17,153.11 L354.67,153.15 L355.17,153.18 L355.67,153.22 L356.16,153.26 L356.66,153.30 L357.16,153.33 L357.66,153.37 L358.16,153.41 L358.66,153.45 L359.16,153.48 L359.66,153.52 L360.16,153.56 L360.65,153.60 L361.15,153.63 L361.65,153.67 L362.15,153.71 L362.65,153.74 L363.15,153.78 L363.65,153.82 L364.15,153.85 L364.65,153.89 L365.14,153.92 L365.64,153.96 L366.14,154.00 L366.64,154.03 L367.14,154.07 L367.64,154.11 L368.14,154.14 L368.64,154.18 L369.14,154.21 L369.64,154.25 L370.13,154.28 L370.63,154.32 L371.13,154.36 L371.63,154.39 L372.13,154.43 L372.63,154.46 L373.13,154.50 L373.63,154.53 L374.13,154.57 L374.63,154.60 L375.12,154.64 L375.62,154.67 L376.12,154.71 L376.62,154.74 L377.12,154.78 L377.62,154.81 L378.12,154.85 L378.62,154.88 L379.12,154.91 L379.62,154.95 L380.12,154.98 L380.61,155.02 L381.11,155.05 L381.61,155.09 L382.11,155.12 L382.61,155.15 L383.11,155.19 L383.61,155.22 L384.11,155.26 L384.61,155.29 L385.11,155.32 L385.61,155.36 L386.10,155.39 L386.60,155.42 L387.10,155.46 L387.60,155.49 L388.10,155.52 L388.60,155.56 L389.10,155.59 L389.60,155.62 L390.10,155.66 L390.60,155.69 L391.10,155.72 L391.59,155.75 L392.09,155.79 L392.59,155.82 L393.09,155.85 L393.59,155.88 L394.09,155.92 L394.59,155.95 L395.09,155.98 L395.59,156.01 L396.09,156.05 L396.59,156.08 L397.09,156.11 L397.59,156.14 L398.08,156.17 L398.58,156.21 L399.08,156.24 L399.58,156.27 L400.08,156.30 L400.58,156.33 L401.08,156.36 L401.58,156.40 L402.08,156.43 L402.58,156.46 L403.08,156.49 L403.58,156.52 L404.08,156.55 L404.57,156.58 L405.07,156.61 L405.57,156.65 L406.07,156.68 L406.57,156.71 L407.07,156.74 L407.57,156.77 L408.07,156.80 L408.57,156.83 L409.07,156.86 L409.57,156.89 L410.07,156.92 L410.57,156.95 L411.07,156.98 L411.56,157.01 L412.06,157.04 L412.56,157.07 L413.06,157.10 L413.56,157.13 L414.06,157.16 L414.56,157.19 L415.06,157.22 L415.56,157.25 L416.06,157.28 L416.56,157.31 L417.06,157.34 L417.56,157.37 L418.06,157.40 L418.56,157.43 L419.05,157.46 L419.55,157.49 L420.05,157.52 L420.55,157.55 L421.05,157.57 L421.55,157.60 L422.05,157.63 L422.55,157.66 L423.05,157.69 L423.55,157.72 L424.05,157.75 L424.55,157.78 L425.05,157.81 L425.55,157.83 L426.05,157.86 L426.55,157.89 L427.05,157.92 L427.54,157.95 L428.04,157.98 L428.54,158.00 L429.04,158.03 L429.54,158.06 L430.04,158.09 L430.54,158.12 L431.04,158.14 L431.54,158.17 L432.04,158.20 L432.54,158.23 L433.04,158.26 L433.54,158.28 L434.04,158.31 L434.54,158.34 L435.04,158.37 L435.54,158.39 L436.04,158.42 L436.54,158.45 L437.03,158.47 L437.53,158.50 L438.03,158.53 L438.53,158.56 L439.03,158.58 L439.53,158.61 L440.03,158.64 L440.53,158.66 L441.03,158.69 L441.53,158.72 L442.03,158.74 L442.53,158.77 L443.03,158.80 L443.53,158.82 L444.03,158.85 L444.53,158.88 L445.03,158.90 L445.53,158.93 L446.03,158.95 L446.53,158.98 L447.03,159.01 L447.52,159.03 L448.02,159.06 L448.52,159.09 L449.02,159.11 L449.52,159.14 L450.02,159.16 L450.52,159.19 L451.02,159.21 L451.52,159.24 L452.02,159.27 L452.52,159.29 L453.02,159.32 L453.52,159.34 L454.02,159.37 L454.52,159.39 L455.02,159.42 L455.52,159.44 L456.02,159.47 L456.52,159.49 L457.02,159.52 L457.52,159.54 L458.02,159.57 L458.52,159.59 L459.02,159.62 L459.51,159.64 L460.01,159.67 L460.51,159.69 L461.01,159.72 L461.51,159.74 L462.01,159.77 L462.51,159.79 L463.01,159.81 L463.51,159.84 L464.01,159.86 L464.51,159.89 L465.01,159.91 L465.51,159.94 L466.01,159.96 L466.51,159.98 L467.01,160.01 L467.51,160.03 L468.01,160.06 L468.51,160.08 L469.01,160.10 L469.51,160.13 L470.01,160.15 L470.51,160.17 L471.01,160.20 L471.51,160.22 L472.01,160.24 L472.51,160.27 L473.01,160.29 L473.51,160.31 L474.01,160.34 L474.50,160.36 L475.00,160.38 L475.50,160.41 L476.00,160.43 L476.50,160.45 L477.00,160.48 L477.50,160.50 L478.00,160.52 L478.50,160.55 L479.00,160.57 L479.50,160.59 L480.00,160.61 L480.50,160.64 L481.00,160.66 L481.50,160.68 L482.00,160.70 L482.50,160.73 L483.00,160.75 L483.50,160.77 L484.00,160.79 L484.50,160.82 L485.00,160.84 L485.50,160.86 L486.00,160.88 L486.50,160.90 L487.00,160.93 L487.50,160.95 L488.00,160.97 L488.50,160.99 L489.00,161.01 L489.50,161.04 L490.00,161.06 L490.50,161.08 L491.00,161.10 L491.50,161.12 L492.00,161.14 L492.50,161.17 L493.00,161.19 L493.50,161.21 L494.00,161.23 L494.50,161.25 L494.99,161.27 L495.49,161.29 L495.99,161.31 L496.49,161.34 L496.99,161.36 L497.49,161.38 L497.99,161.40 L498.49,161.42 L498.99,161.44 L499.49,161.46 L499.99,161.48 L500.49,161.50 L500.99,161.52 L501.49,161.54 L501.99,161.57 L502.49,161.59 L502.99,161.61 L503.49,161.63 L503.99,161.65 L504.49,161.67 L504.99,161.69 L505.49,161.71 L505.99,161.73 L506.49,161.75 L506.99,161.77 L507.49,161.79 L507.99,161.81 L508.49,161.83 L508.99,161.85 L509.49,161.87 L509.99,161.89 L510.49,161.91 L510.99,161.93 L511.49,161.95 L511.99,161.97 L512.49,161.99 L512.99,162.01 L513.49,162.03 L513.99,162.05 L514.49,162.07 L514.99,162.09 L515.49,162.11 L515.99,162.13 L516.49,162.15 L516.99,162.16 L517.49,162.18 L517.99,162.20 L518.49,162.22 L518.99,162.24 L519.49,162.26 L519.99,162.28 L520.49,162.30 L520.99,162.32 L521.49,162.34 L521.99,162.36 L522.49,162.37 L522.99,162.39 L523.49,162.41 L523.99,162.43 L524.49,162.45 L524.99,162.47 L525.49,162.49 L525.99,162.51 L526.49,162.52 L526.99,162.54 L527.49,162.56 L527.99,162.58 L528.49,162.60 L528.99,162.62 L529.49,162.63 L529.99,162.65 L530.49,162.67 L530.99,162.69 L531.49,162.71 L531.99,162.73 L532.49,162.74 L532.99,162.76 L533.49,162.78 L533.99,162.80 L534.49,162.82 L534.99,162.83 L535.49,162.85 L535.99,162.87 L536.49,162.89 L536.99,162.91 L537.49,162.92 L537.99,162.94 L538.49,162.96 L538.99,162.98 L539.49,162.99 L539.99,163.01 L540.49,163.03 L540.99,163.05 L541.49,163.06 L541.99,163.08 L542.49,163.10 L542.99,163.12 L543.48,163.13 L543.98,163.15 L544.48,163.17 L544.98,163.18 L545.48,163.20 L545.98,163.22 L546.48,163.24 L546.98,163.25 L547.48,163.27 L547.98,163.29 L548.48,163.30 L548.98,163.32 L549.48,163.34 L549.98,163.35 L550.48,163.37 L550.98,163.39 L551.48,163.40 L551.98,163.42 L552.48,163.44 L552.98,163.45 L553.48,163.47 L553.98,163.49 L554.48,163.50 L554.98,163.52 L555.48,163.54 L555.98,163.55 L556.48,163.57 L556.98,163.59 L557.48,163.60 L557.98,163.62 L558.48,163.63 L558.98,163.65 L559.48,163.67 L559.98,163.68 L560.48,163.70 L560.98,163.71 L561.48,163.73 L561.98,163.75 L562.48,163.76 L562.99,163.78 L563.49,163.79 L563.99,163.81 L564.49,163.83 L564.99,163.84 L565.49,163.86 L565.99,163.87 L566.49,163.89 L566.99,163.90 L567.49,163.92 L567.99,163.94 L568.49,163.95 L568.99,163.97 L569.49,163.98 L569.99,164.00 L570.49,164.01 L570.99,164.03 L571.49,164.04 L571.99,164.06 L572.49,164.07 L572.99,164.09 L573.49,164.10 L573.99,164.12 L574.49,164.14 L574.99,164.15 L575.49,164.17 L575.99,164.18 L576.49,164.20 L576.99,164.21 L577.49,164.23 L577.99,164.24 L578.49,164.26 L578.99,164.27 L579.49,164.28 L579.99,164.30 L580.49,164.31 L580.99,164.33 L581.49,164.34 L581.99,164.36 L582.49,164.37 L582.99,164.39 L583.49,164.40 L583.99,164.42 L584.49,164.43 L584.99,164.45 L585.49,164.46 L585.99,164.48 L586.49,164.49 L586.99,164.50 L587.49,164.52 L587.99,164.53 L588.49,164.55 L588.99,164.56 L589.49,164.58 L589.99,164.59 L590.49,164.60 L590.99,164.62 L591.49,164.63 L591.99,164.65 L592.49,164.66 L592.99,164.68 L593.49,164.69 L593.99,164.70 L594.49,164.72 L594.99,164.73 L595.49,164.75 L595.99,164.76 L596.49,164.77 L596.99,164.79 L597.49,164.80 L597.99,164.81 L598.49,164.83 L598.99,164.84 L599.49,164.86 L599.99,164.87 L600.49,164.88 L600.99,164.90 L601.49,164.91 L601.99,164.92 L602.49,164.94 L602.99,164.95 L603.49,164.96 L603.99,164.98 L604.49,164.99 L604.99,165.00 L605.49,165.02 L605.99,165.03 L606.49,165.05 L606.99,165.06 L607.49,165.07 L607.99,165.09 L608.49,165.10 L608.99,165.11 L609.49,165.12 L609.99,165.14 L610.49,165.15 L610.99,165.16 L611.49,165.18 L611.99,165.19 L612.49,165.20 L612.99,165.22 L613.49,165.23 L613.99,165.24 L614.49,165.26 L614.99,165.27 L615.49,165.28 L615.99,165.29 L616.49,165.31 L616.99,165.32 L617.49,165.33 L617.99,165.35 L618.49,165.36 L618.99,165.37 L619.49,165.38 L619.99,165.40 L620.49,165.41 L620.99,165.42 L621.49,165.43 L621.99,165.45 L622.49,165.46 L622.99,165.47 L623.49,165.49 L623.99,165.50 L624.49,165.51 L624.99,165.52 L625.49,165.54 L625.99,165.55 L626.49,165.56 L626.99,165.57 L627.49,165.59 L627.99,165.60 L628.49,165.61 L628.99,165.62 L629.49,165.63 L629.99,165.65 L630.49,165.66 L630.99,165.67 L631.49,165.68 L631.99,165.70 L632.49,165.71 L632.99,165.72 L633.49,165.73 L633.99,165.74 L634.49,165.76 L634.99,165.77 L635.49,165.78 L635.99,165.79 L636.49,165.80 L637.00,165.82 L637.50,165.83 L638.00,165.84 L638.50,165.85 L639.00,165.86 L639.50,165.88 L640.00,165.89 L640.50,165.90 L641.00,165.91 L641.50,165.92 L642.00,165.94 L642.50,165.95 L643.00,165.96 L643.50,165.97 L644.00,165.98 L644.50,165.99 L645.00,166.01 L645.50,166.02 L646.00,166.03 L646.50,166.04 L647.00,166.05 L647.50,166.06 L648.00,166.08 L648.50,166.09 L649.00,166.10 L649.50,166.11 L650.00,166.12 L650.50,166.13 L651.00,166.15 L651.50,166.16 L652.00,166.17 L652.50,166.18 L653.00,166.19 L653.50,166.20 L654.00,166.21 L654.50,166.23 L655.00,166.24 L655.50,166.25 L656.00,166.26 L656.50,166.27 L657.00,166.28 L657.50,166.29 L658.00,166.30 L658.50,166.32 L659.00,166.33 L659.50,166.34 L660.00,166.35 L660.50,166.36 L661.00,166.37 L661.50,166.38 L662.00,166.39 L662.50,166.41 L663.00,166.42 L663.50,166.43 L664.00,166.44 L664.50,166.45 L665.00,166.46 L665.50,166.47 L666.00,166.48 L666.50,166.49 L667.00,166.51 L667.50,166.52 L668.00,166.53 L668.50,166.54 L669.00,166.55 L669.50,166.56 L670.00,166.57 L670.50,166.58 L671.00,166.59 L671.50,166.60" stroke="#00B050" stroke-width="2.75"/>
<path d="M64.20,337.00 L64.33,336.52 L64.46,336.03 L64.59,335.55 L64.72,335.06 L64.85,334.58 L64.98,334.09 L65.11,333.61 L65.24,333.12 L65.37,332.64 L65.50,332.15 L65.63,331.67 L65.76,331.18 L65.89,330.70 L66.02,330.21 L66.15,329.73 L66.28,329.24 L66.41,328.76 L66.53,328.27 L66.66,327.79 L66.79,327.30 L66.92,326.82 L67.04,326.34 L67.17,325.85 L67.30,325.37 L67.43,324.88 L67.55,324.40 L67.68,323.91 L67.81,323.43 L67.93,322.94 L68.06,322.46 L68.18,321.97 L68.31,321.49 L68.44,321.01 L68.56,320.52 L68.69,320.04 L68.81,319.55 L68.94,319.07 L69.06,318.58 L69.19,318.10 L69.31,317.62 L69.44,317.13 L69.56,316.65 L69.69,316.16 L69.81,315.68 L69.93,315.19 L70.06,314.71 L70.18,314.22 L70.31,313.74 L70.43,313.26 L70.55,312.77 L70.68,312.29 L70.80,311.80 L70.92,311.32 L71.05,310.84 L71.17,310.35 L71.29,309.87 L71.42,309.38 L71.54,308.90 L71.66,308.41 L71.78,307.93 L71.91,307.45 L72.03,306.96 L72.15,306.48 L72.27,305.99 L72.39,305.51 L72.52,305.03 L72.64,304.54 L72.76,304.06 L72.88,303.57 L73.00,303.09 L73.13,302.61 L73.25,302.12 L73.37,301.64 L73.49,301.15 L73.61,300.67 L73.73,300.19 L73.86,299.70 L73.98,299.22 L74.10,298.73 L74.22,298.25 L74.34,297.77 L74.46,297.28 L74.58,296.80 L74.70,296.31 L74.82,295.83 L74.95,295.35 L75.07,294.86 L75.19,294.38 L75.31,293.90 L75.43,293.41 L75.55,292.93 L75.67,292.44 L75.79,291.96 L75.91,291.48 L76.03,290.99 L76.15,290.51 L76.27,290.02 L76.39,289.54 L76.51,289.06 L76.64,288.57 L76.76,288.09 L76.88,287.61 L77.00,287.12 L77.12,286.64 L77.24,286.15 L77.36,285.67 L77.48,285.19 L77.60,284.70 L77.72,284.22 L77.84,283.73 L77.96,283.25 L78.08,282.77 L78.20,282.28 L78.32,281.80 L78.44,281.32 L78.56,280.83 L78.69,280.35 L78.81,279.86 L78.93,279.38 L79.05,278.90 L79.17,278.41 L79.29,277.93 L79.41,277.45 L79.53,276.96 L79.65,276.48 L79.77,275.99 L79.89,275.51 L80.01,275.03 L80.14,274.54 L80.26,274.06 L80.38,273.58 L80.50,273.09 L80.62,272.61 L80.74,272.13 L80.86,271.64 L80.99,271.16 L81.11,270.67 L81.23,270.19 L81.35,269.71 L81.47,269.22 L81.59,268.74 L81.72,268.26 L81.84,267.77 L81.96,267.29 L82.08,266.80 L82.20,266.32 L82.33,265.84 L82.45,265.35 L82.57,264.87 L82.69,264.39 L82.82,263.90 L82.94,263.42 L83.06,262.93 L83.18,262.45 L83.31,261.97 L83.43,261.48 L83.55,261.00 L83.68,260.52 L83.80,260.03 L83.92,259.55 L84.05,259.06 L84.17,258.58 L84.29,258.10 L84.42,257.61 L84.54,257.13 L84.67,256.65 L84.79,256.16 L84.92,255.68 L85.04,255.19 L85.16,254.71 L85.29,254.23 L85.41,253.74 L85.54,253.26 L85.66,252.77 L85.79,252.29 L85.92,251.81 L86.04,251.32 L86.17,250.84 L86.29,250.36 L86.42,249.87 L86.55,249.39 L86.67,248.90 L86.80,248.42 L86.92,247.94 L87.05,247.45 L87.18,246.97 L87.31,246.48 L87.43,246.00 L87.56,245.52 L87.69,245.03 L87.82,244.55 L87.94,244.07 L88.07,243.58 L88.20,243.10 L88.33,242.61 L88.46,242.13 L88.59,241.65 L88.72,241.16 L88.84,240.68 L88.97,240.19 L89.10,239.71 L89.23,239.23 L89.36,238.74 L89.49,238.26 L89.62,237.77 L89.75,237.29 L89.89,236.81 L90.02,236.32 L90.15,235.84 L90.28,235.35 L90.41,234.87 L90.54,234.39 L90.67,233.90 L90.81,233.42 L90.94,232.93 L91.07,232.45 L91.20,231.96 L91.34,231.48 L91.47,231.00 L91.60,230.51 L91.74,230.03 L91.87,229.54 L92.01,229.06 L92.14,228.58 L92.28,228.09 L92.41,227.61 L92.55,227.12 L92.68,226.64 L92.82,226.15 L92.95,225.67 L93.09,225.19 L93.23,224.70 L93.36,224.22 L93.50,223.73 L93.64,223.25 L93.77,222.76 L93.91,222.28 L94.05,221.80 L94.19,221.31 L94.33,220.83 L94.46,220.34 L94.60,219.86 L94.74,219.37 L94.88,218.89 L95.02,218.41 L95.16,217.92 L95.30,217.44 L95.44,216.95 L95.58,216.47 L95.73,215.99 L95.87,215.50 L96.01,215.02 L96.15,214.53 L96.29,214.05 L96.44,213.57 L96.58,213.08 L96.72,212.60 L96.86,212.12 L97.01,211.63 L97.15,211.15 L97.30,210.67 L97.44,210.18 L97.59,209.70 L97.73,209.22 L97.88,208.74 L98.02,208.25 L98.17,207.77 L98.32,207.29 L98.46,206.81 L98.61,206.33 L98.76,205.84 L98.91,205.36 L99.05,204.88 L99.20,204.40 L99.35,203.92 L99.50,203.44 L99.65,202.95 L99.80,202.47 L99.95,201.99 L100.10,201.51 L100.25,201.03 L100.40,200.55 L100.55,200.07 L100.71,199.59 L100.86,199.11 L101.01,198.63 L101.16,198.15 L101.32,197.67 L101.47,197.20 L101.62,196.72 L101.78,196.24 L101.93,195.76 L102.09,195.28 L102.24,194.80 L102.40,194.33 L102.55,193.85 L102.71,193.37 L102.87,192.90 L103.02,192.42 L103.18,191.94 L103.34,191.47 L103.50,190.99 L103.66,190.51 L103.82,190.04 L103.97,189.56 L104.13,189.09 L104.29,188.61 L104.46,188.14 L104.62,187.67 L104.78,187.19 L104.94,186.72 L105.10,186.25 L105.26,185.77 L105.43,185.30 L105.59,184.83 L105.75,184.36 L105.92,183.88 L106.08,183.41 L106.25,182.94 L106.41,182.47 L106.58,182.00 L106.74,181.53 L106.91,181.06 L107.08,180.59 L107.24,180.12 L107.41,179.65 L107.58,179.18 L107.75,178.71 L107.92,178.25 L108.09,177.78 L108.26,177.31 L108.43,176.85 L108.60,176.38 L108.77,175.91 L108.94,175.45 L109.11,174.98 L109.28,174.52 L109.46,174.05 L109.63,173.59 L109.80,173.13 L109.98,172.66 L110.15,172.20 L110.33,171.74 L110.50,171.27 L110.68,170.81 L110.86,170.35 L111.03,169.89 L111.21,169.43 L111.39,168.97 L111.57,168.51 L111.74,168.05 L111.92,167.59 L112.10,167.13 L112.28,166.68 L112.47,166.22 L112.65,165.76 L112.83,165.30 L113.01,164.85 L113.20,164.39 L113.38,163.94 L113.57,163.48 L113.76,163.03 L113.94,162.58 L114.13,162.12 L114.32,161.67 L114.51,161.22 L114.70,160.77 L114.90,160.32 L115.09,159.87 L115.29,159.42 L115.48,158.97 L115.68,158.52 L115.88,158.07 L116.08,157.62 L116.28,157.17 L116.48,156.73 L116.68,156.28 L116.89,155.84 L117.09,155.39 L117.30,154.95 L117.51,154.50 L117.72,154.06 L117.93,153.62 L118.14,153.18 L118.36,152.73 L118.58,152.29 L118.79,151.85 L119.01,151.41 L119.23,150.98 L119.46,150.54 L119.68,150.10 L119.91,149.66 L120.14,149.23 L120.37,148.79 L120.60,148.36 L120.83,147.92 L121.07,147.49 L121.31,147.06 L121.55,146.62 L121.79,146.19 L122.03,145.76 L122.28,145.33 L122.53,144.90 L122.78,144.47 L123.03,144.05 L123.28,143.62 L123.54,143.19 L123.80,142.77 L124.06,142.34 L124.32,141.92 L124.59,141.49 L124.85,141.07 L125.12,140.65 L125.40,140.23 L125.67,139.81 L125.95,139.39 L126.23,138.97 L126.51,138.55 L126.80,138.13 L127.08,137.72 L127.37,137.30 L127.67,136.89 L127.96,136.47 L128.26,136.06 L128.56,135.65 L128.86,135.24 L129.17,134.83 L129.47,134.42 L129.78,134.01 L130.10,133.61 L130.41,133.20 L130.73,132.80 L131.05,132.40 L131.37,132.00 L131.70,131.60 L132.02,131.20 L132.35,130.81 L132.68,130.41 L133.02,130.02 L133.35,129.63 L133.69,129.24 L134.03,128.86 L134.38,128.47 L134.72,128.09 L135.07,127.71 L135.42,127.33 L135.77,126.95 L136.13,126.58 L136.48,126.21 L136.84,125.84 L137.20,125.47 L137.57,125.11 L137.93,124.74 L138.30,124.38 L138.67,124.02 L139.04,123.67 L139.41,123.32 L139.79,122.97 L140.17,122.62 L140.55,122.27 L140.93,121.93 L141.31,121.59 L141.70,121.26 L142.09,120.93 L142.48,120.60 L142.87,120.27 L143.26,119.94 L143.66,119.62 L144.05,119.31 L144.45,118.99 L144.86,118.68 L145.26,118.37 L145.66,118.07 L146.07,117.77 L146.48,117.47 L146.89,117.18 L147.31,116.89 L147.72,116.60 L148.14,116.32 L148.55,116.04 L148.97,115.76 L149.40,115.49 L149.82,115.22 L150.25,114.96 L150.67,114.70 L151.10,114.44 L151.53,114.19 L151.96,113.94 L152.40,113.70 L152.83,113.46 L153.27,113.22 L153.71,112.99 L154.15,112.76 L154.59,112.54 L155.04,112.32 L155.48,112.11 L155.93,111.90 L156.38,111.70 L156.83,111.50 L157.28,111.30 L157.73,111.11 L158.19,110.93 L158.64,110.75 L159.10,110.57 L159.56,110.40 L160.02,110.23 L160.48,110.07 L160.95,109.92 L161.41,109.77 L161.88,109.62 L162.35,109.48 L162.82,109.35 L163.29,109.22 L163.76,109.09 L164.23,108.97 L164.71,108.86 L165.18,108.75 L165.66,108.65 L166.14,108.55 L166.62,108.46 L167.10,108.38 L167.58,108.30 L168.07,108.23 L168.55,108.16 L169.04,108.09 L169.52,108.04 L170.01,107.99 L170.50,107.94 L170.99,107.90 L171.47,107.87 L171.96,107.84 L172.45,107.82 L172.95,107.80 L173.44,107.79 L173.93,107.79 L174.42,107.79 L174.91,107.80 L175.40,107.81 L175.89,107.83 L176.38,107.85 L176.88,107.89 L177.37,107.92 L177.86,107.97 L178.35,108.01 L178.84,108.07 L179.33,108.13 L179.82,108.20 L180.30,108.27 L180.79,108.35 L181.28,108.43 L181.76,108.52 L182.25,108.62 L182.73,108.72 L183.21,108.83 L183.69,108.95 L184.17,109.07 L184.65,109.20 L185.13,109.33 L185.61,109.47 L186.08,109.62 L186.55,109.77 L187.02,109.93 L187.49,110.09 L187.96,110.26 L188.43,110.44 L188.89,110.62 L189.35,110.81 L189.81,111.00 L190.27,111.20 L190.73,111.41 L191.18,111.61 L191.64,111.83 L192.09,112.04 L192.55,112.26 L193.00,112.48 L193.45,112.71 L193.90,112.93 L194.35,113.16 L194.80,113.39 L195.25,113.62 L195.69,113.85 L196.14,114.09 L196.59,114.32 L197.04,114.55 L197.49,114.78 L197.94,115.02 L198.39,115.25 L198.84,115.48 L199.29,115.70 L199.74,115.93 L200.19,116.15 L200.64,116.37 L201.10,116.58 L201.55,116.80 L202.01,117.01 L202.46,117.22 L202.92,117.43 L203.38,117.63 L203.84,117.83 L204.30,118.03 L204.76,118.23 L205.22,118.42 L205.68,118.61 L206.14,118.80 L206.60,118.99 L207.07,119.17 L207.53,119.36 L208.00,119.54 L208.46,119.72 L208.93,119.89 L209.40,120.07 L209.87,120.24 L210.33,120.41 L210.80,120.57 L211.27,120.74 L211.74,120.90 L212.22,121.07 L212.69,121.23 L213.16,121.38 L213.63,121.54 L214.11,121.69 L214.58,121.85 L215.06,122.00 L215.53,122.14 L216.01,122.29 L216.48,122.44 L216.96,122.58 L217.44,122.72 L217.92,122.86 L218.39,123.00 L218.87,123.14 L219.35,123.27 L219.83,123.41 L220.31,123.54 L220.79,123.67 L221.27,123.80 L221.76,123.93 L222.24,124.06 L222.72,124.18 L223.20,124.31 L223.69,124.43 L224.17,124.55 L224.66,124.67 L225.14,124.79 L225.62,124.91 L226.11,125.03 L226.60,125.14 L227.08,125.26 L227.57,125.37 L228.05,125.48 L228.54,125.59 L229.03,125.71 L229.52,125.82 L230.00,125.92 L230.49,126.03 L230.98,126.14 L231.47,126.25 L231.96,126.35 L232.44,126.46 L232.93,126.56 L233.42,126.66 L233.91,126.76 L234.40,126.87 L234.89,126.97 L235.38,127.07 L235.87,127.17 L236.36,127.27 L236.85,127.37 L237.34,127.46 L237.83,127.56 L238.32,127.66 L238.82,127.76 L239.31,127.85 L239.80,127.95 L240.29,128.05 L240.78,128.14 L241.27,128.24 L241.76,128.33 L242.25,128.43 L242.75,128.52 L243.24,128.62 L243.73,128.71 L244.22,128.80 L244.71,128.90 L245.20,128.99 L245.70,129.09 L246.19,129.18 L246.68,129.27 L247.17,129.36 L247.66,129.46 L248.15,129.55 L248.65,129.64 L249.14,129.73 L249.63,129.82 L250.12,129.92 L250.61,130.01 L251.11,130.10 L251.60,130.19 L252.09,130.28 L252.58,130.37 L253.07,130.46 L253.57,130.55 L254.06,130.64 L254.55,130.73 L255.04,130.82 L255.54,130.91 L256.03,131.00 L256.52,131.08 L257.01,131.17 L257.51,131.26 L258.00,131.35 L258.49,131.44 L258.98,131.52 L259.48,131.61 L259.97,131.70 L260.46,131.78 L260.95,131.87 L261.45,131.96 L261.94,132.04 L262.43,132.13 L262.92,132.21 L263.42,132.30 L263.91,132.38 L264.40,132.47 L264.90,132.55 L265.39,132.64 L265.88,132.72 L266.38,132.81 L266.87,132.89 L267.36,132.97 L267.86,133.06 L268.35,133.14 L268.84,133.22 L269.34,133.30 L269.83,133.39 L270.32,133.47 L270.82,133.55 L271.31,133.63 L271.80,133.71 L272.30,133.79 L272.79,133.87 L273.28,133.95 L273.78,134.03 L274.27,134.11 L274.76,134.19 L275.26,134.27 L275.75,134.35 L276.25,134.43 L276.74,134.51 L277.23,134.59 L277.73,134.67 L278.22,134.74 L278.72,134.82 L279.21,134.90 L279.70,134.98 L280.20,135.05 L280.69,135.13 L281.19,135.21 L281.68,135.28 L282.17,135.36 L282.67,135.43 L283.16,135.51 L283.66,135.58 L284.15,135.66 L284.65,135.73 L285.14,135.81 L285.64,135.88 L286.13,135.96 L286.62,136.03 L287.12,136.10 L287.61,136.18 L288.11,136.25 L288.60,136.32 L289.10,136.39 L289.59,136.47 L290.09,136.54 L290.58,136.61 L291.08,136.68 L291.57,136.75 L292.07,136.82 L292.56,136.89 L293.06,136.96 L293.55,137.03 L294.05,137.10 L294.54,137.17 L295.04,137.24 L295.53,137.31 L296.03,137.38 L296.52,137.45 L297.02,137.51 L297.51,137.58 L298.01,137.65 L298.50,137.72 L299.00,137.78 L299.49,137.85 L299.99,137.92 L300.49,137.98 L300.98,138.05 L301.48,138.11 L301.97,138.18 L302.47,138.24 L302.96,138.31 L303.46,138.37 L303.95,138.44 L304.45,138.50 L304.95,138.57 L305.44,138.63 L305.94,138.69 L306.43,138.76 L306.93,138.82 L307.43,138.88 L307.92,138.94 L308.42,139.00 L308.91,139.06 L309.41,139.13 L309.91,139.19 L310.40,139.25 L310.90,139.31 L311.39,139.37 L311.89,139.43 L312.39,139.49 L312.88,139.55 L313.38,139.60 L313.88,139.66 L314.37,139.72 L314.87,139.78 L315.37,139.84 L315.86,139.90 L316.36,139.95 L316.85,140.01 L317.35,140.07 L317.85,140.12 L318.34,140.18 L318.84,140.23 L319.34,140.29 L319.83,140.34 L320.33,140.40 L320.83,140.45 L321.33,140.51 L321.82,140.56 L322.32,140.62 L322.82,140.67 L323.31,140.72 L323.81,140.77 L324.31,140.83 L324.80,140.88 L325.30,140.93 L325.80,140.98 L326.30,141.03 L326.79,141.08 L327.29,141.14 L327.79,141.19 L328.28,141.24 L328.78,141.29 L329.28,141.33 L329.78,141.38 L330.27,141.43 L330.77,141.48 L331.27,141.53 L331.77,141.58 L332.26,141.63 L332.76,141.67 L333.26,141.72 L333.76,141.77 L334.25,141.81 L334.75,141.86 L335.25,141.91 L335.75,141.95 L336.25,142.00 L336.74,142.04 L337.24,142.09 L337.74,142.13 L338.24,142.18 L338.74,142.22 L339.23,142.26 L339.73,142.31 L340.23,142.35 L340.73,142.39 L341.23,142.44 L341.72,142.48 L342.22,142.52 L342.72,142.56 L343.22,142.60 L343.72,142.65 L344.21,142.69 L344.71,142.73 L345.21,142.77 L345.71,142.81 L346.21,142.85 L346.71,142.89 L347.20,142.93 L347.70,142.97 L348.20,143.01 L348.70,143.05 L349.20,143.09 L349.70,143.12 L350.19,143.16 L350.69,143.20 L351.19,143.24 L351.69,143.28 L352.19,143.31 L352.69,143.35 L353.19,143.39 L353.69,143.42 L354.18,143.46 L354.68,143.50 L355.18,143.53 L355.68,143.57 L356.18,143.61 L356.68,143.64 L357.18,143.68 L357.68,143.71 L358.17,143.75 L358.67,143.78 L359.17,143.82 L359.67,143.85 L360.17,143.89 L360.67,143.92 L361.17,143.95 L361.67,143.99 L362.17,144.02 L362.66,144.06 L363.16,144.09 L363.66,144.12 L364.16,144.15 L364.66,144.19 L365.16,144.22 L365.66,144.25 L366.16,144.28 L366.66,144.32 L367.16,144.35 L367.66,144.38 L368.15,144.41 L368.65,144.44 L369.15,144.48 L369.65,144.51 L370.15,144.54 L370.65,144.57 L371.15,144.60 L371.65,144.63 L372.15,144.66 L372.65,144.69 L373.15,144.72 L373.65,144.75 L374.15,144.78 L374.65,144.81 L375.15,144.84 L375.64,144.87 L376.14,144.90 L376.64,144.93 L377.14,144.96 L377.64,144.99 L378.14,145.02 L378.64,145.05 L379.14,145.08 L379.64,145.11 L380.14,145.13 L380.64,145.16 L381.14,145.19 L381.64,145.22 L382.14,145.25 L382.64,145.28 L383.14,145.30 L383.64,145.33 L384.14,145.36 L384.64,145.39 L385.14,145.42 L385.63,145.44 L386.13,145.47 L386.63,145.50 L387.13,145.53 L387.63,145.55 L388.13,145.58 L388.63,145.61 L389.13,145.64 L389.63,145.66 L390.13,145.69 L390.63,145.72 L391.13,145.74 L391.63,145.77 L392.13,145.80 L392.63,145.82 L393.13,145.85 L393.63,145.88 L394.13,145.90 L394.63,145.93 L395.13,145.96 L395.63,145.98 L396.13,146.01 L396.63,146.04 L397.13,146.06 L397.63,146.09 L398.13,146.12 L398.63,146.14 L399.13,146.17 L399.63,146.20 L400.13,146.22 L400.63,146.25 L401.13,146.27 L401.63,146.30 L402.12,146.33 L402.62,146.35 L403.12,146.38 L403.62,146.41 L404.12,146.43 L404.62,146.46 L405.12,146.48 L405.62,146.51 L406.12,146.54 L406.62,146.56 L407.12,146.59 L407.62,146.62 L408.12,146.64 L408.62,146.67 L409.12,146.69 L409.62,146.72 L410.12,146.75 L410.62,146.77 L411.12,146.80 L411.62,146.83 L412.12,146.85 L412.62,146.88 L413.12,146.90 L413.62,146.93 L414.12,146.96 L414.62,146.98 L415.12,147.01 L415.62,147.04 L416.12,147.06 L416.62,147.09 L417.12,147.12 L417.62,147.14 L418.12,147.17 L418.62,147.20 L419.11,147.23 L419.61,147.25 L420.11,147.28 L420.61,147.31 L421.11,147.33 L421.61,147.36 L422.11,147.39 L422.61,147.42 L423.11,147.44 L423.61,147.47 L424.11,147.50 L424.61,147.53 L425.11,147.55 L425.61,147.58 L426.11,147.61 L426.61,147.64 L427.11,147.67 L427.61,147.69 L428.11,147.72 L428.61,147.75 L429.11,147.78 L429.61,147.81 L430.11,147.83 L430.60,147.86 L431.10,147.89 L431.60,147.92 L432.10,147.95 L432.60,147.97 L433.10,148.00 L433.60,148.03 L434.10,148.06 L434.60,148.09 L435.10,148.12 L435.60,148.15 L436.10,148.17 L436.60,148.20 L437.10,148.23 L437.60,148.26 L438.10,148.29 L438.60,148.32 L439.10,148.35 L439.59,148.38 L440.09,148.40 L440.59,148.43 L441.09,148.46 L441.59,148.49 L442.09,148.52 L442.59,148.55 L443.09,148.58 L443.59,148.61 L444.09,148.64 L444.59,148.66 L445.09,148.69 L445.59,148.72 L446.09,148.75 L446.59,148.78 L447.09,148.81 L447.58,148.84 L448.08,148.87 L448.58,148.90 L449.08,148.93 L449.58,148.96 L450.08,148.99 L450.58,149.01 L451.08,149.04 L451.58,149.07 L452.08,149.10 L452.58,149.13 L453.08,149.16 L453.58,149.19 L454.08,149.22 L454.58,149.25 L455.07,149.28 L455.57,149.31 L456.07,149.34 L456.57,149.36 L457.07,149.39 L457.57,149.42 L458.07,149.45 L458.57,149.48 L459.07,149.51 L459.57,149.54 L460.07,149.57 L460.57,149.60 L461.07,149.63 L461.57,149.66 L462.06,149.69 L462.56,149.71 L463.06,149.74 L463.56,149.77 L464.06,149.80 L464.56,149.83 L465.06,149.86 L465.56,149.89 L466.06,149.92 L466.56,149.95 L467.06,149.98 L467.56,150.00 L468.06,150.03 L468.56,150.06 L469.05,150.09 L469.55,150.12 L470.05,150.15 L470.55,150.18 L471.05,150.21 L471.55,150.24 L472.05,150.26 L472.55,150.29 L473.05,150.32 L473.55,150.35 L474.05,150.38 L474.55,150.41 L475.05,150.44 L475.54,150.46 L476.04,150.49 L476.54,150.52 L477.04,150.55 L477.54,150.58 L478.04,150.61 L478.54,150.63 L479.04,150.66 L479.54,150.69 L480.04,150.72 L480.54,150.75 L481.04,150.77 L481.54,150.80 L482.04,150.83 L482.53,150.86 L483.03,150.89 L483.53,150.91 L484.03,150.94 L484.53,150.97 L485.03,151.00 L485.53,151.02 L486.03,151.05 L486.53,151.08 L487.03,151.11 L487.53,151.13 L488.03,151.16 L488.53,151.19 L489.03,151.21 L489.53,151.24 L490.02,151.27 L490.52,151.30 L491.02,151.32 L491.52,151.35 L492.02,151.38 L492.52,151.40 L493.02,151.43 L493.52,151.46 L494.02,151.48 L494.52,151.51 L495.02,151.53 L495.52,151.56 L496.02,151.59 L496.52,151.61 L497.02,151.64 L497.51,151.66 L498.01,151.69 L498.51,151.72 L499.01,151.74 L499.51,151.77 L500.01,151.79 L500.51,151.82 L501.01,151.84 L501.51,151.87 L502.01,151.89 L502.51,151.92 L503.01,151.94 L503.51,151.97 L504.01,151.99 L504.51,152.02 L505.01,152.04 L505.51,152.07 L506.01,152.09 L506.50,152.12 L507.00,152.14 L507.50,152.17 L508.00,152.19 L508.50,152.21 L509.00,152.24 L509.50,152.26 L510.00,152.29 L510.50,152.31 L511.00,152.33 L511.50,152.36 L512.00,152.38 L512.50,152.40 L513.00,152.43 L513.50,152.45 L514.00,152.47 L514.50,152.50 L515.00,152.52 L515.50,152.54 L516.00,152.56 L516.49,152.59 L516.99,152.61 L517.49,152.63 L517.99,152.65 L518.49,152.67 L518.99,152.70 L519.49,152.72 L519.99,152.74 L520.49,152.76 L520.99,152.78 L521.49,152.80 L521.99,152.82 L522.49,152.85 L522.99,152.87 L523.49,152.89 L523.99,152.91 L524.49,152.93 L524.99,152.95 L525.49,152.97 L525.99,152.99 L526.49,153.01 L526.99,153.03 L527.49,153.05 L527.99,153.07 L528.49,153.09 L528.99,153.11 L529.49,153.13 L529.99,153.15 L530.49,153.17 L530.99,153.19 L531.49,153.21 L531.99,153.22 L532.49,153.24 L532.99,153.26 L533.48,153.28 L533.98,153.30 L534.48,153.32 L534.98,153.34 L535.48,153.35 L535.98,153.37 L536.48,153.39 L536.98,153.41 L537.48,153.43 L537.98,153.44 L538.48,153.46 L538.98,153.48 L539.48,153.50 L539.98,153.51 L540.48,153.53 L540.98,153.55 L541.48,153.57 L541.98,153.58 L542.48,153.60 L542.98,153.62 L543.48,153.63 L543.98,153.65 L544.48,153.67 L544.98,153.68 L545.48,153.70 L545.98,153.72 L546.48,153.73 L546.98,153.75 L547.48,153.77 L547.98,153.78 L548.48,153.80 L548.98,153.81 L549.48,153.83 L549.98,153.85 L550.48,153.86 L550.98,153.88 L551.48,153.89 L551.98,153.91 L552.48,153.92 L552.98,153.94 L553.48,153.95 L553.98,153.97 L554.48,153.98 L554.98,154.00 L555.48,154.01 L555.98,154.03 L556.48,154.04 L556.98,154.06 L557.48,154.07 L557.98,154.09 L558.48,154.10 L558.98,154.12 L559.48,154.13 L559.98,154.15 L560.48,154.16 L560.98,154.18 L561.48,154.19 L561.98,154.20 L562.48,154.22 L562.98,154.23 L563.48,154.25 L563.98,154.26 L564.48,154.27 L564.98,154.29 L565.48,154.30 L565.98,154.31 L566.48,154.33 L566.98,154.34 L567.48,154.35 L567.98,154.37 L568.48,154.38 L568.98,154.40 L569.48,154.41 L569.98,154.42 L570.48,154.43 L570.98,154.45 L571.48,154.46 L571.98,154.47 L572.48,154.49 L572.99,154.50 L573.49,154.51 L573.99,154.53 L574.49,154.54 L574.99,154.55 L575.49,154.56 L575.99,154.58 L576.49,154.59 L576.99,154.60 L577.49,154.61 L577.99,154.63 L578.49,154.64 L578.99,154.65 L579.49,154.66 L579.99,154.68 L580.49,154.69 L580.99,154.70 L581.49,154.71 L581.99,154.73 L582.49,154.74 L582.99,154.75 L583.49,154.76 L583.99,154.77 L584.49,154.79 L584.99,154.80 L585.49,154.81 L585.99,154.82 L586.49,154.83 L586.99,154.85 L587.49,154.86 L587.99,154.87 L588.49,154.88 L588.99,154.89 L589.49,154.91 L589.99,154.92 L590.49,154.93 L590.99,154.94 L591.49,154.95 L591.99,154.96 L592.49,154.98 L592.99,154.99 L593.49,155.00 L593.99,155.01 L594.49,155.02 L594.99,155.03 L595.49,155.05 L595.99,155.06 L596.49,155.07 L596.99,155.08 L597.49,155.09 L597.99,155.10 L598.49,155.11 L598.99,155.13 L599.49,155.14 L599.99,155.15 L600.50,155.16 L601.00,155.17 L601.50,155.18 L602.00,155.19 L602.50,155.21 L603.00,155.22 L603.50,155.23 L604.00,155.24 L604.50,155.25 L605.00,155.26 L605.50,155.27 L606.00,155.28 L606.50,155.30 L607.00,155.31 L607.50,155.32 L608.00,155.33 L608.50,155.34 L609.00,155.35 L609.50,155.36 L610.00,155.38 L610.50,155.39 L611.00,155.40 L611.50,155.41 L612.00,155.42 L612.50,155.43 L613.00,155.44 L613.50,155.45 L614.00,155.47 L614.50,155.48 L615.00,155.49 L615.50,155.50 L616.00,155.51 L616.50,155.52 L617.00,155.53 L617.50,155.55 L618.00,155.56 L618.50,155.57 L619.00,155.58 L619.50,155.59 L620.00,155.60 L620.50,155.62 L621.00,155.63 L621.50,155.64 L622.00,155.65 L622.50,155.66 L623.00,155.67 L623.50,155.68 L624.00,155.70 L624.50,155.71 L625.00,155.72 L625.50,155.73 L626.00,155.74 L626.50,155.76 L627.00,155.77 L627.50,155.78 L628.00,155.79 L628.50,155.80 L629.00,155.81 L629.51,155.83 L630.01,155.84 L630.51,155.85 L631.01,155.86 L631.51,155.87 L632.01,155.89 L632.51,155.90 L633.01,155.91 L633.51,155.92 L634.01,155.94 L634.51,155.95 L635.01,155.96 L635.51,155.97 L636.01,155.99 L636.51,156.00 L637.01,156.01 L637.51,156.02 L638.01,156.04 L638.51,156.05 L639.01,156.06 L639.51,156.07 L640.01,156.09 L640.51,156.10 L641.01,156.11 L641.51,156.12 L642.01,156.14 L642.51,156.15 L643.01,156.16 L643.51,156.18 L644.01,156.19 L644.51,156.20 L645.01,156.22 L645.51,156.23 L646.01,156.24 L646.51,156.26 L647.01,156.27 L647.51,156.28 L648.01,156.30 L648.51,156.31 L649.01,156.32 L649.51,156.34 L650.01,156.35 L650.51,156.36 L651.01,156.38 L651.51,156.39 L652.01,156.41 L652.51,156.42 L653.01,156.43 L653.51,156.45 L654.01,156.46 L654.51,156.48 L655.01,156.49 L655.51,156.50 L656.01,156.52 L656.51,156.53 L657.01,156.55 L657.51,156.56 L658.01,156.58 L658.51,156.59 L659.01,156.61 L659.50,156.62 L660.00,156.64 L660.50,156.65 L661.00,156.67 L661.50,156.68 L662.00,156.70 L662.50,156.71 L663.00,156.73 L663.50,156.74 L664.00,156.76 L664.50,156.77 L665.00,156.79 L665.50,156.81 L666.00,156.82 L666.50,156.84 L667.00,156.85 L667.50,156.87 L668.00,156.89 L668.50,156.90 L669.00,156.92 L669.50,156.94 L670.00,156.95 L670.50,156.97 L671.00,156.99 L671.50,157.00" stroke="#0000FF" stroke-width="2.75"/>
<path d="M64.20,337.00 L64.30,336.51 L64.41,336.02 L64.51,335.53 L64.62,335.03 L64.73,334.54 L64.83,334.05 L64.94,333.56 L65.04,333.07 L65.15,332.58 L65.26,332.09 L65.36,331.60 L65.47,331.11 L65.58,330.62 L65.68,330.13 L65.79,329.64 L65.90,329.15 L66.01,328.66 L66.11,328.17 L66.22,327.68 L66.33,327.19 L66.44,326.70 L66.55,326.21 L66.66,325.72 L66.77,325.23 L66.88,324.74 L66.99,324.25 L67.09,323.76 L67.20,323.27 L67.31,322.78 L67.42,322.30 L67.53,321.81 L67.65,321.32 L67.76,320.83 L67.87,320.34 L67.98,319.85 L68.09,319.36 L68.20,318.88 L68.31,318.39 L68.42,317.90 L68.54,317.41 L68.65,316.92 L68.76,316.44 L68.87,315.95 L68.98,315.46 L69.10,314.97 L69.21,314.49 L69.32,314.00 L69.43,313.51 L69.55,313.02 L69.66,312.54 L69.77,312.05 L69.89,311.56 L70.00,311.07 L70.11,310.59 L70.23,310.10 L70.34,309.61 L70.46,309.13 L70.57,308.64 L70.69,308.15 L70.80,307.67 L70.91,307.18 L71.03,306.69 L71.14,306.21 L71.26,305.72 L71.37,305.23 L71.49,304.75 L71.60,304.26 L71.72,303.78 L71.83,303.29 L71.95,302.80 L72.07,302.32 L72.18,301.83 L72.30,301.35 L72.41,300.86 L72.53,300.37 L72.65,299.89 L72.76,299.40 L72.88,298.92 L72.99,298.43 L73.11,297.94 L73.23,297.46 L73.34,296.97 L73.46,296.49 L73.58,296.00 L73.69,295.52 L73.81,295.03 L73.93,294.55 L74.04,294.06 L74.16,293.57 L74.28,293.09 L74.40,292.60 L74.51,292.12 L74.63,291.63 L74.75,291.15 L74.87,290.66 L74.98,290.18 L75.10,289.69 L75.22,289.21 L75.34,288.72 L75.45,288.24 L75.57,287.75 L75.69,287.27 L75.81,286.78 L75.93,286.30 L76.04,285.81 L76.16,285.33 L76.28,284.84 L76.40,284.36 L76.52,283.87 L76.63,283.39 L76.75,282.90 L76.87,282.42 L76.99,281.93 L77.11,281.45 L77.23,280.96 L77.34,280.48 L77.46,279.99 L77.58,279.51 L77.70,279.02 L77.82,278.54 L77.94,278.05 L78.05,277.57 L78.17,277.08 L78.29,276.60 L78.41,276.11 L78.53,275.63 L78.65,275.14 L78.76,274.66 L78.88,274.17 L79.00,273.69 L79.12,273.20 L79.24,272.72 L79.36,272.23 L79.48,271.75 L79.59,271.27 L79.71,270.78 L79.83,270.30 L79.95,269.81 L80.07,269.33 L80.19,268.84 L80.30,268.36 L80.42,267.87 L80.54,267.39 L80.66,266.90 L80.78,266.42 L80.90,265.93 L81.01,265.44 L81.13,264.96 L81.25,264.47 L81.37,263.99 L81.49,263.50 L81.60,263.02 L81.72,262.53 L81.84,262.05 L81.96,261.56 L82.08,261.08 L82.19,260.59 L82.31,260.11 L82.43,259.62 L82.55,259.14 L82.66,258.65 L82.78,258.16 L82.90,257.68 L83.02,257.19 L83.13,256.71 L83.25,256.22 L83.37,255.74 L83.49,255.25 L83.60,254.76 L83.72,254.28 L83.84,253.79 L83.95,253.31 L84.07,252.82 L84.19,252.34 L84.30,251.85 L84.42,251.36 L84.54,250.88 L84.65,250.39 L84.77,249.90 L84.89,249.42 L85.00,248.93 L85.12,248.45 L85.23,247.96 L85.35,247.47 L85.47,246.99 L85.58,246.50 L85.70,246.01 L85.81,245.53 L85.93,245.04 L86.04,244.55 L86.16,244.06 L86.27,243.58 L86.39,243.09 L86.50,242.60 L86.62,242.12 L86.73,241.63 L86.85,241.14 L86.96,240.65 L87.08,240.17 L87.19,239.68 L87.30,239.19 L87.42,238.70 L87.53,238.22 L87.65,237.73 L87.76,237.24 L87.87,236.75 L87.99,236.26 L88.10,235.78 L88.21,235.29 L88.33,234.80 L88.44,234.31 L88.55,233.82 L88.66,233.33 L88.78,232.85 L88.89,232.36 L89.00,231.87 L89.11,231.38 L89.23,230.89 L89.34,230.40 L89.45,229.91 L89.56,229.42 L89.67,228.94 L89.78,228.45 L89.90,227.96 L90.01,227.47 L90.12,226.98 L90.23,226.49 L90.34,226.00 L90.45,225.51 L90.57,225.02 L90.68,224.53 L90.79,224.04 L90.90,223.55 L91.01,223.06 L91.12,222.58 L91.24,222.09 L91.35,221.60 L91.46,221.11 L91.57,220.62 L91.68,220.13 L91.79,219.64 L91.91,219.15 L92.02,218.66 L92.13,218.17 L92.24,217.68 L92.35,217.19 L92.47,216.70 L92.58,216.21 L92.69,215.72 L92.80,215.23 L92.92,214.74 L93.03,214.26 L93.14,213.77 L93.25,213.28 L93.37,212.79 L93.48,212.30 L93.59,211.81 L93.71,211.32 L93.82,210.83 L93.93,210.34 L94.05,209.85 L94.16,209.36 L94.28,208.88 L94.39,208.39 L94.50,207.90 L94.62,207.41 L94.73,206.92 L94.85,206.43 L94.96,205.94 L95.08,205.45 L95.19,204.97 L95.31,204.48 L95.43,203.99 L95.54,203.50 L95.66,203.01 L95.78,202.52 L95.89,202.04 L96.01,201.55 L96.13,201.06 L96.25,200.57 L96.36,200.09 L96.48,199.60 L96.60,199.11 L96.72,198.62 L96.84,198.14 L96.96,197.65 L97.08,197.16 L97.20,196.67 L97.32,196.19 L97.44,195.70 L97.56,195.21 L97.68,194.73 L97.80,194.24 L97.93,193.75 L98.05,193.27 L98.17,192.78 L98.29,192.30 L98.42,191.81 L98.54,191.32 L98.66,190.84 L98.79,190.35 L98.91,189.87 L99.04,189.38 L99.16,188.90 L99.29,188.41 L99.42,187.93 L99.54,187.44 L99.67,186.96 L99.80,186.48 L99.93,185.99 L100.06,185.51 L100.18,185.02 L100.31,184.54 L100.44,184.06 L100.57,183.57 L100.71,183.09 L100.84,182.61 L100.97,182.12 L101.10,181.64 L101.23,181.16 L101.37,180.68 L101.50,180.19 L101.63,179.71 L101.77,179.23 L101.90,178.75 L102.04,178.27 L102.18,177.79 L102.31,177.31 L102.45,176.83 L102.59,176.34 L102.73,175.86 L102.86,175.38 L103.00,174.90 L103.14,174.42 L103.28,173.95 L103.42,173.47 L103.57,172.99 L103.71,172.51 L103.85,172.03 L103.99,171.55 L104.14,171.07 L104.28,170.59 L104.43,170.12 L104.57,169.64 L104.72,169.16 L104.87,168.69 L105.02,168.21 L105.16,167.73 L105.31,167.26 L105.46,166.78 L105.61,166.30 L105.76,165.83 L105.91,165.35 L106.07,164.88 L106.22,164.40 L106.37,163.93 L106.53,163.45 L106.68,162.98 L106.84,162.51 L106.99,162.03 L107.15,161.56 L107.31,161.09 L107.47,160.61 L107.63,160.14 L107.79,159.67 L107.95,159.20 L108.11,158.73 L108.27,158.25 L108.43,157.78 L108.60,157.31 L108.76,156.84 L108.93,156.37 L109.09,155.90 L109.26,155.43 L109.43,154.96 L109.59,154.49 L109.76,154.03 L109.93,153.56 L110.10,153.09 L110.27,152.62 L110.45,152.16 L110.62,151.69 L110.79,151.22 L110.97,150.76 L111.14,150.29 L111.32,149.82 L111.50,149.36 L111.67,148.89 L111.85,148.43 L112.03,147.96 L112.21,147.50 L112.40,147.04 L112.58,146.57 L112.76,146.11 L112.95,145.65 L113.13,145.18 L113.32,144.72 L113.50,144.26 L113.69,143.80 L113.88,143.34 L114.07,142.88 L114.26,142.42 L114.45,141.96 L114.64,141.50 L114.84,141.04 L115.03,140.58 L115.23,140.12 L115.42,139.66 L115.62,139.21 L115.82,138.75 L116.02,138.29 L116.22,137.84 L116.42,137.38 L116.62,136.93 L116.82,136.47 L117.03,136.02 L117.23,135.56 L117.44,135.11 L117.65,134.65 L117.85,134.20 L118.06,133.75 L118.27,133.29 L118.48,132.84 L118.70,132.39 L118.91,131.94 L119.12,131.49 L119.34,131.04 L119.56,130.59 L119.77,130.14 L119.99,129.69 L120.21,129.24 L120.43,128.79 L120.66,128.35 L120.88,127.90 L121.10,127.45 L121.33,127.00 L121.55,126.56 L121.78,126.11 L122.01,125.67 L122.24,125.22 L122.47,124.78 L122.70,124.34 L122.94,123.89 L123.17,123.45 L123.41,123.01 L123.64,122.57 L123.88,122.13 L124.12,121.68 L124.36,121.25 L124.61,120.81 L124.85,120.37 L125.09,119.93 L125.34,119.49 L125.59,119.06 L125.84,118.62 L126.09,118.19 L126.34,117.75 L126.59,117.32 L126.84,116.89 L127.10,116.46 L127.36,116.03 L127.62,115.60 L127.88,115.17 L128.14,114.74 L128.40,114.31 L128.67,113.89 L128.93,113.46 L129.20,113.04 L129.47,112.62 L129.74,112.20 L130.01,111.78 L130.29,111.36 L130.56,110.94 L130.84,110.52 L131.12,110.10 L131.40,109.69 L131.69,109.28 L131.97,108.86 L132.26,108.45 L132.54,108.04 L132.83,107.64 L133.13,107.23 L133.42,106.82 L133.71,106.42 L134.01,106.02 L134.31,105.61 L134.61,105.21 L134.91,104.82 L135.22,104.42 L135.53,104.02 L135.83,103.63 L136.14,103.24 L136.46,102.84 L136.77,102.46 L137.09,102.07 L137.41,101.68 L137.73,101.30 L138.05,100.91 L138.37,100.53 L138.70,100.15 L139.03,99.77 L139.36,99.40 L139.69,99.02 L140.03,98.65 L140.36,98.28 L140.70,97.91 L141.04,97.54 L141.39,97.18 L141.73,96.81 L142.08,96.45 L142.43,96.09 L142.78,95.74 L143.14,95.38 L143.50,95.03 L143.86,94.67 L144.22,94.33 L144.58,93.98 L144.95,93.63 L145.32,93.29 L145.69,92.95 L146.06,92.61 L146.44,92.27 L146.82,91.94 L147.20,91.60 L147.58,91.27 L147.97,90.94 L148.35,90.62 L148.75,90.29 L149.14,89.97 L149.53,89.65 L149.93,89.34 L150.33,89.02 L150.74,88.71 L151.14,88.40 L151.55,88.09 L151.96,87.79 L152.38,87.49 L152.80,87.19 L153.21,86.89 L153.64,86.60 L154.06,86.30 L154.49,86.01 L154.92,85.73 L155.35,85.45 L155.79,85.17 L156.22,84.89 L156.66,84.62 L157.10,84.35 L157.55,84.08 L157.99,83.82 L158.44,83.57 L158.89,83.32 L159.34,83.07 L159.79,82.83 L160.25,82.59 L160.70,82.36 L161.16,82.13 L161.62,81.91 L162.08,81.70 L162.54,81.49 L163.00,81.28 L163.47,81.09 L163.93,80.89 L164.40,80.71 L164.87,80.53 L165.34,80.36 L165.81,80.19 L166.28,80.04 L166.75,79.89 L167.22,79.74 L167.69,79.61 L168.16,79.48 L168.64,79.36 L169.11,79.25 L169.59,79.14 L170.06,79.05 L170.54,78.96 L171.01,78.88 L171.49,78.81 L171.96,78.75 L172.44,78.70 L172.91,78.66 L173.39,78.63 L173.86,78.61 L174.34,78.59 L174.81,78.59 L175.28,78.60 L175.76,78.61 L176.23,78.64 L176.70,78.68 L177.18,78.72 L177.65,78.78 L178.12,78.84 L178.59,78.92 L179.06,79.00 L179.53,79.09 L180.00,79.18 L180.47,79.29 L180.94,79.40 L181.41,79.52 L181.87,79.65 L182.34,79.78 L182.81,79.92 L183.28,80.07 L183.74,80.22 L184.21,80.38 L184.67,80.55 L185.14,80.72 L185.61,80.89 L186.07,81.07 L186.53,81.26 L187.00,81.45 L187.46,81.64 L187.93,81.84 L188.39,82.04 L188.85,82.25 L189.32,82.46 L189.78,82.67 L190.24,82.88 L190.70,83.10 L191.16,83.32 L191.62,83.54 L192.08,83.77 L192.54,84.00 L193.01,84.22 L193.47,84.45 L193.92,84.68 L194.38,84.91 L194.84,85.15 L195.30,85.38 L195.76,85.61 L196.22,85.84 L196.68,86.07 L197.14,86.30 L197.59,86.54 L198.05,86.76 L198.51,86.99 L198.97,87.22 L199.42,87.45 L199.88,87.67 L200.34,87.89 L200.79,88.11 L201.25,88.33 L201.70,88.55 L202.16,88.76 L202.62,88.98 L203.07,89.19 L203.53,89.40 L203.98,89.61 L204.44,89.82 L204.89,90.03 L205.35,90.23 L205.81,90.44 L206.26,90.64 L206.72,90.84 L207.17,91.04 L207.63,91.24 L208.09,91.44 L208.54,91.64 L209.00,91.84 L209.46,92.03 L209.92,92.23 L210.37,92.42 L210.83,92.61 L211.29,92.81 L211.75,93.00 L212.21,93.19 L212.67,93.38 L213.13,93.57 L213.59,93.75 L214.05,93.94 L214.51,94.13 L214.97,94.31 L215.43,94.50 L215.89,94.69 L216.36,94.87 L216.82,95.05 L217.28,95.24 L217.75,95.42 L218.21,95.60 L218.68,95.78 L219.14,95.96 L219.61,96.14 L220.07,96.32 L220.54,96.50 L221.01,96.68 L221.47,96.85 L221.94,97.03 L222.41,97.21 L222.88,97.38 L223.35,97.56 L223.82,97.73 L224.29,97.90 L224.76,98.08 L225.23,98.25 L225.70,98.42 L226.17,98.59 L226.64,98.76 L227.11,98.93 L227.58,99.10 L228.05,99.27 L228.53,99.43 L229.00,99.60 L229.47,99.77 L229.95,99.93 L230.42,100.10 L230.90,100.26 L231.37,100.42 L231.84,100.58 L232.32,100.75 L232.79,100.91 L233.27,101.07 L233.75,101.23 L234.22,101.39 L234.70,101.55 L235.17,101.70 L235.65,101.86 L236.13,102.02 L236.61,102.17 L237.08,102.33 L237.56,102.48 L238.04,102.64 L238.52,102.79 L239.00,102.94 L239.47,103.09 L239.95,103.24 L240.43,103.39 L240.91,103.54 L241.39,103.69 L241.87,103.84 L242.35,103.99 L242.83,104.13 L243.31,104.28 L243.79,104.43 L244.27,104.57 L244.75,104.71 L245.23,104.86 L245.71,105.00 L246.19,105.14 L246.68,105.28 L247.16,105.42 L247.64,105.56 L248.12,105.70 L248.60,105.84 L249.08,105.98 L249.57,106.11 L250.05,106.25 L250.53,106.38 L251.01,106.52 L251.50,106.65 L251.98,106.79 L252.46,106.92 L252.95,107.05 L253.43,107.18 L253.91,107.31 L254.40,107.44 L254.88,107.57 L255.36,107.70 L255.85,107.83 L256.33,107.96 L256.81,108.08 L257.30,108.21 L257.78,108.33 L258.27,108.46 L258.75,108.58 L259.24,108.71 L259.72,108.83 L260.21,108.95 L260.69,109.07 L261.18,109.19 L261.66,109.32 L262.15,109.44 L262.63,109.55 L263.12,109.67 L263.61,109.79 L264.09,109.91 L264.58,110.03 L265.06,110.14 L265.55,110.26 L266.04,110.37 L266.52,110.49 L267.01,110.60 L267.50,110.71 L267.98,110.83 L268.47,110.94 L268.96,111.05 L269.45,111.16 L269.93,111.27 L270.42,111.38 L270.91,111.49 L271.40,111.60 L271.88,111.71 L272.37,111.82 L272.86,111.92 L273.35,112.03 L273.84,112.14 L274.32,112.24 L274.81,112.35 L275.30,112.45 L275.79,112.55 L276.28,112.66 L276.77,112.76 L277.26,112.86 L277.75,112.96 L278.23,113.07 L278.72,113.17 L279.21,113.27 L279.70,113.37 L280.19,113.47 L280.68,113.57 L281.17,113.66 L281.66,113.76 L282.15,113.86 L282.64,113.96 L283.13,114.05 L283.62,114.15 L284.11,114.24 L284.60,114.34 L285.09,114.43 L285.58,114.53 L286.07,114.62 L286.57,114.71 L287.06,114.81 L287.55,114.90 L288.04,114.99 L288.53,115.08 L289.02,115.17 L289.51,115.26 L290.00,115.35 L290.49,115.44 L290.99,115.53 L291.48,115.62 L291.97,115.71 L292.46,115.80 L292.95,115.88 L293.45,115.97 L293.94,116.06 L294.43,116.14 L294.92,116.23 L295.41,116.32 L295.91,116.40 L296.40,116.49 L296.89,116.57 L297.38,116.65 L297.88,116.74 L298.37,116.82 L298.86,116.90 L299.35,116.99 L299.85,117.07 L300.34,117.15 L300.83,117.23 L301.33,117.31 L301.82,117.39 L302.31,117.47 L302.81,117.55 L303.30,117.63 L303.79,117.71 L304.29,117.79 L304.78,117.87 L305.27,117.94 L305.77,118.02 L306.26,118.10 L306.75,118.18 L307.25,118.25 L307.74,118.33 L308.24,118.41 L308.73,118.48 L309.22,118.56 L309.72,118.63 L310.21,118.71 L310.71,118.78 L311.20,118.85 L311.70,118.93 L312.19,119.00 L312.68,119.08 L313.18,119.15 L313.67,119.22 L314.17,119.29 L314.66,119.37 L315.16,119.44 L315.65,119.51 L316.15,119.58 L316.64,119.65 L317.14,119.72 L317.63,119.79 L318.13,119.86 L318.62,119.93 L319.12,120.00 L319.61,120.07 L320.11,120.14 L320.60,120.21 L321.10,120.28 L321.59,120.35 L322.09,120.42 L322.58,120.48 L323.08,120.55 L323.57,120.62 L324.07,120.69 L324.57,120.75 L325.06,120.82 L325.56,120.89 L326.05,120.95 L326.55,121.02 L327.04,121.08 L327.54,121.15 L328.03,121.22 L328.53,121.28 L329.03,121.35 L329.52,121.41 L330.02,121.48 L330.51,121.54 L331.01,121.61 L331.51,121.67 L332.00,121.73 L332.50,121.80 L332.99,121.86 L333.49,121.93 L333.99,121.99 L334.48,122.05 L334.98,122.11 L335.47,122.18 L335.97,122.24 L336.47,122.30 L336.96,122.36 L337.46,122.43 L337.96,122.49 L338.45,122.55 L338.95,122.61 L339.44,122.67 L339.94,122.73 L340.44,122.79 L340.93,122.85 L341.43,122.91 L341.93,122.97 L342.42,123.03 L342.92,123.09 L343.42,123.15 L343.91,123.21 L344.41,123.27 L344.91,123.33 L345.40,123.39 L345.90,123.45 L346.40,123.51 L346.89,123.57 L347.39,123.62 L347.89,123.68 L348.38,123.74 L348.88,123.80 L349.38,123.86 L349.87,123.91 L350.37,123.97 L350.87,124.03 L351.37,124.08 L351.86,124.14 L352.36,124.20 L352.86,124.25 L353.35,124.31 L353.85,124.37 L354.35,124.42 L354.84,124.48 L355.34,124.53 L355.84,124.59 L356.34,124.64 L356.83,124.70 L357.33,124.75 L357.83,124.81 L358.33,124.86 L358.82,124.92 L359.32,124.97 L359.82,125.02 L360.31,125.08 L360.81,125.13 L361.31,125.18 L361.81,125.24 L362.30,125.29 L362.80,125.34 L363.30,125.40 L363.80,125.45 L364.29,125.50 L364.79,125.55 L365.29,125.61 L365.79,125.66 L366.29,125.71 L366.78,125.76 L367.28,125.81 L367.78,125.86 L368.28,125.91 L368.77,125.97 L369.27,126.02 L369.77,126.07 L370.27,126.12 L370.76,126.17 L371.26,126.22 L371.76,126.27 L372.26,126.32 L372.76,126.37 L373.25,126.42 L373.75,126.47 L374.25,126.52 L374.75,126.57 L375.25,126.61 L375.74,126.66 L376.24,126.71 L376.74,126.76 L377.24,126.81 L377.74,126.86 L378.23,126.90 L378.73,126.95 L379.23,127.00 L379.73,127.05 L380.23,127.10 L380.73,127.14 L381.22,127.19 L381.72,127.24 L382.22,127.28 L382.72,127.33 L383.22,127.38 L383.71,127.42 L384.21,127.47 L384.71,127.52 L385.21,127.56 L385.71,127.61 L386.21,127.65 L386.70,127.70 L387.20,127.75 L387.70,127.79 L388.20,127.84 L388.70,127.88 L389.20,127.93 L389.70,127.97 L390.19,128.02 L390.69,128.06 L391.19,128.10 L391.69,128.15 L392.19,128.19 L392.69,128.24 L393.19,128.28 L393.68,128.33 L394.18,128.37 L394.68,128.41 L395.18,128.46 L395.68,128.50 L396.18,128.54 L396.68,128.58 L397.17,128.63 L397.67,128.67 L398.17,128.71 L398.67,128.76 L399.17,128.80 L399.67,128.84 L400.17,128.88 L400.67,128.92 L401.16,128.97 L401.66,129.01 L402.16,129.05 L402.66,129.09 L403.16,129.13 L403.66,129.17 L404.16,129.21 L404.66,129.26 L405.15,129.30 L405.65,129.34 L406.15,129.38 L406.65,129.42 L407.15,129.46 L407.65,129.50 L408.15,129.54 L408.65,129.58 L409.15,129.62 L409.64,129.66 L410.14,129.70 L410.64,129.74 L411.14,129.78 L411.64,129.82 L412.14,129.86 L412.64,129.90 L413.14,129.93 L413.64,129.97 L414.14,130.01 L414.63,130.05 L415.13,130.09 L415.63,130.13 L416.13,130.17 L416.63,130.20 L417.13,130.24 L417.63,130.28 L418.13,130.32 L418.63,130.36 L419.13,130.39 L419.63,130.43 L420.13,130.47 L420.62,130.51 L421.12,130.54 L421.62,130.58 L422.12,130.62 L422.62,130.66 L423.12,130.69 L423.62,130.73 L424.12,130.77 L424.62,130.80 L425.12,130.84 L425.62,130.88 L426.12,130.91 L426.61,130.95 L427.11,130.98 L427.61,131.02 L428.11,131.06 L428.61,131.09 L429.11,131.13 L429.61,131.16 L430.11,131.20 L430.61,131.23 L431.11,131.27 L431.61,131.30 L432.11,131.34 L432.61,131.37 L433.10,131.41 L433.60,131.44 L434.10,131.48 L434.60,131.51 L435.10,131.55 L435.60,131.58 L436.10,131.62 L436.60,131.65 L437.10,131.69 L437.60,131.72 L438.10,131.75 L438.60,131.79 L439.10,131.82 L439.60,131.86 L440.09,131.89 L440.59,131.92 L441.09,131.96 L441.59,131.99 L442.09,132.02 L442.59,132.06 L443.09,132.09 L443.59,132.12 L444.09,132.16 L444.59,132.19 L445.09,132.22 L445.59,132.26 L446.09,132.29 L446.59,132.32 L447.09,132.35 L447.58,132.39 L448.08,132.42 L448.58,132.45 L449.08,132.48 L449.58,132.52 L450.08,132.55 L450.58,132.58 L451.08,132.61 L451.58,132.64 L452.08,132.68 L452.58,132.71 L453.08,132.74 L453.58,132.77 L454.08,132.80 L454.58,132.83 L455.08,132.87 L455.57,132.90 L456.07,132.93 L456.57,132.96 L457.07,132.99 L457.57,133.02 L458.07,133.05 L458.57,133.08 L459.07,133.11 L459.57,133.14 L460.07,133.18 L460.57,133.21 L461.07,133.24 L461.57,133.27 L462.07,133.30 L462.57,133.33 L463.07,133.36 L463.56,133.39 L464.06,133.42 L464.56,133.45 L465.06,133.48 L465.56,133.51 L466.06,133.54 L466.56,133.57 L467.06,133.60 L467.56,133.63 L468.06,133.66 L468.56,133.68 L469.06,133.71 L469.56,133.74 L470.06,133.77 L470.56,133.80 L471.06,133.83 L471.55,133.86 L472.05,133.89 L472.55,133.92 L473.05,133.95 L473.55,133.97 L474.05,134.00 L474.55,134.03 L475.05,134.06 L475.55,134.09 L476.05,134.12 L476.55,134.14 L477.05,134.17 L477.55,134.20 L478.05,134.23 L478.55,134.26 L479.05,134.28 L479.55,134.31 L480.05,134.34 L480.54,134.37 L481.04,134.39 L481.54,134.42 L482.04,134.45 L482.54,134.48 L483.04,134.50 L483.54,134.53 L484.04,134.56 L484.54,134.59 L485.04,134.61 L485.54,134.64 L486.04,134.67 L486.54,134.69 L487.04,134.72 L487.54,134.75 L488.04,134.77 L488.54,134.80 L489.04,134.83 L489.53,134.85 L490.03,134.88 L490.53,134.91 L491.03,134.93 L491.53,134.96 L492.03,134.98 L492.53,135.01 L493.03,135.04 L493.53,135.06 L494.03,135.09 L494.53,135.11 L495.03,135.14 L495.53,135.16 L496.03,135.19 L496.53,135.22 L497.03,135.24 L497.53,135.27 L498.03,135.29 L498.53,135.32 L499.03,135.34 L499.52,135.37 L500.02,135.39 L500.52,135.42 L501.02,135.44 L501.52,135.47 L502.02,135.49 L502.52,135.52 L503.02,135.54 L503.52,135.56 L504.02,135.59 L504.52,135.61 L505.02,135.64 L505.52,135.66 L506.02,135.69 L506.52,135.71 L507.02,135.73 L507.52,135.76 L508.02,135.78 L508.52,135.81 L509.02,135.83 L509.52,135.85 L510.01,135.88 L510.51,135.90 L511.01,135.93 L511.51,135.95 L512.01,135.97 L512.51,136.00 L513.01,136.02 L513.51,136.04 L514.01,136.07 L514.51,136.09 L515.01,136.11 L515.51,136.13 L516.01,136.16 L516.51,136.18 L517.01,136.20 L517.51,136.23 L518.01,136.25 L518.51,136.27 L519.01,136.29 L519.51,136.32 L520.01,136.34 L520.51,136.36 L521.01,136.38 L521.50,136.41 L522.00,136.43 L522.50,136.45 L523.00,136.47 L523.50,136.50 L524.00,136.52 L524.50,136.54 L525.00,136.56 L525.50,136.58 L526.00,136.60 L526.50,136.63 L527.00,136.65 L527.50,136.67 L528.00,136.69 L528.50,136.71 L529.00,136.73 L529.50,136.76 L530.00,136.78 L530.50,136.80 L531.00,136.82 L531.50,136.84 L532.00,136.86 L532.50,136.88 L533.00,136.90 L533.50,136.92 L534.00,136.95 L534.50,136.97 L534.99,136.99 L535.49,137.01 L535.99,137.03 L536.49,137.05 L536.99,137.07 L537.49,137.09 L537.99,137.11 L538.49,137.13 L538.99,137.15 L539.49,137.17 L539.99,137.19 L540.49,137.21 L540.99,137.23 L541.49,137.25 L541.99,137.27 L542.49,137.29 L542.99,137.31 L543.49,137.33 L543.99,137.35 L544.49,137.37 L544.99,137.39 L545.49,137.41 L545.99,137.43 L546.49,137.45 L546.99,137.47 L547.49,137.49 L547.99,137.51 L548.49,137.53 L548.99,137.55 L549.49,137.56 L549.99,137.58 L550.49,137.60 L550.98,137.62 L551.48,137.64 L551.98,137.66 L552.48,137.68 L552.98,137.70 L553.48,137.72 L553.98,137.73 L554.48,137.75 L554.98,137.77 L555.48,137.79 L555.98,137.81 L556.48,137.83 L556.98,137.85 L557.48,137.86 L557.98,137.88 L558.48,137.90 L558.98,137.92 L559.48,137.94 L559.98,137.95 L560.48,137.97 L560.98,137.99 L561.48,138.01 L561.98,138.03 L562.48,138.04 L562.98,138.06 L563.48,138.08 L563.98,138.10 L564.48,138.12 L564.98,138.13 L565.48,138.15 L565.98,138.17 L566.48,138.19 L566.98,138.20 L567.48,138.22 L567.98,138.24 L568.48,138.25 L568.98,138.27 L569.48,138.29 L569.98,138.31 L570.48,138.32 L570.98,138.34 L571.48,138.36 L571.98,138.37 L572.48,138.39 L572.98,138.41 L573.48,138.42 L573.97,138.44 L574.47,138.46 L574.97,138.48 L575.47,138.49 L575.97,138.51 L576.47,138.52 L576.97,138.54 L577.47,138.56 L577.97,138.57 L578.47,138.59 L578.97,138.61 L579.47,138.62 L579.97,138.64 L580.47,138.66 L580.97,138.67 L581.47,138.69 L581.97,138.70 L582.47,138.72 L582.97,138.74 L583.47,138.75 L583.97,138.77 L584.47,138.78 L584.97,138.80 L585.47,138.81 L585.97,138.83 L586.47,138.85 L586.97,138.86 L587.47,138.88 L587.97,138.89 L588.47,138.91 L588.97,138.92 L589.47,138.94 L589.97,138.95 L590.47,138.97 L590.97,138.98 L591.47,139.00 L591.97,139.01 L592.47,139.03 L592.97,139.05 L593.47,139.06 L593.97,139.08 L594.47,139.09 L594.97,139.11 L595.47,139.12 L595.97,139.13 L596.47,139.15 L596.97,139.16 L597.47,139.18 L597.97,139.19 L598.47,139.21 L598.97,139.22 L599.47,139.24 L599.97,139.25 L600.47,139.27 L600.97,139.28 L601.47,139.30 L601.97,139.31 L602.47,139.32 L602.97,139.34 L603.47,139.35 L603.97,139.37 L604.47,139.38 L604.97,139.40 L605.47,139.41 L605.97,139.42 L606.47,139.44 L606.97,139.45 L607.47,139.47 L607.97,139.48 L608.47,139.49 L608.97,139.51 L609.47,139.52 L609.97,139.53 L610.47,139.55 L610.97,139.56 L611.47,139.58 L611.97,139.59 L612.47,139.60 L612.97,139.62 L613.47,139.63 L613.97,139.64 L614.47,139.66 L614.97,139.67 L615.47,139.68 L615.97,139.70 L616.47,139.71 L616.97,139.72 L617.47,139.74 L617.97,139.75 L618.47,139.76 L618.97,139.78 L619.47,139.79 L619.97,139.80 L620.47,139.81 L620.97,139.83 L621.47,139.84 L621.97,139.85 L622.47,139.87 L622.97,139.88 L623.47,139.89 L623.97,139.91 L624.47,139.92 L624.97,139.93 L625.47,139.94 L625.97,139.96 L626.47,139.97 L626.97,139.98 L627.47,139.99 L627.97,140.01 L628.47,140.02 L628.97,140.03 L629.48,140.04 L629.98,140.06 L630.48,140.07 L630.98,140.08 L631.48,140.09 L631.98,140.10 L632.48,140.12 L632.98,140.13 L633.48,140.14 L633.98,140.15 L634.48,140.17 L634.98,140.18 L635.48,140.19 L635.98,140.20 L636.48,140.21 L636.98,140.23 L637.48,140.24 L637.98,140.25 L638.48,140.26 L638.98,140.27 L639.48,140.29 L639.98,140.30 L640.48,140.31 L640.98,140.32 L641.48,140.33 L641.98,140.34 L642.48,140.36 L642.98,140.37 L643.48,140.38 L643.98,140.39 L644.48,140.40 L644.98,140.41 L645.48,140.42 L645.98,140.44 L646.48,140.45 L646.98,140.46 L647.48,140.47 L647.98,140.48 L648.48,140.49 L648.98,140.50 L649.48,140.52 L649.98,140.53 L650.49,140.54 L650.99,140.55 L651.49,140.56 L651.99,140.57 L652.49,140.58 L652.99,140.59 L653.49,140.60 L653.99,140.62 L654.49,140.63 L654.99,140.64 L655.49,140.65 L655.99,140.66 L656.49,140.67 L656.99,140.68 L657.49,140.69 L657.99,140.70 L658.49,140.71 L658.99,140.72 L659.49,140.73 L659.99,140.75 L660.49,140.76 L660.99,140.77 L661.49,140.78 L661.99,140.79 L662.49,140.80 L662.99,140.81 L663.49,140.82 L663.99,140.83 L664.50,140.84 L665.00,140.85 L665.50,140.86 L666.00,140.87 L666.50,140.88 L667.00,140.89 L667.50,140.90 L668.00,140.91 L668.50,140.92 L669.00,140.93 L669.50,140.94 L670.00,140.95 L670.50,140.96 L671.00,140.97 L671.50,140.99" stroke="#000000" stroke-width="2.75" stroke-dasharray="0.00 1.21 6.25 10.35 6.25 10.35 6.25 10.35 6.25 10.35 6.25 10.35 6.25 10.35 6.25 10.35 6.25 10.35 6.25 10.35 6.25 10.35 6.25 9.73 6.25 10.25 6.25 9.68 6.25 10.85 6.25 11.07 6.25 10.26 6.25 10.44 6.25 10.00 6.25 10.21 6.25 10.51 6.25 10.53 6.25 10.45 6.25 10.64 6.25 10.36 6.25 9.99 6.25 10.77 6.25 10.46 6.25 10.53 6.25 10.21 6.25 10.39 6.25 10.48 6.25 10.48 6.25 10.48 6.25 10.29 6.25 10.28 6.25 10.28 6.25 10.44 6.25 10.44 6.25 10.44 6.25 10.76 6.25 10.26 6.25 10.26 6.25 10.56 6.25 10.56 6.25 10.26 6.25 10.61 6.25 10.30 6.25 58.28" stroke-linecap="round"/>
<path d="M64.20,337.00 L64.30,336.51 L64.40,336.02 L64.51,335.52 L64.61,335.03 L64.71,334.54 L64.81,334.05 L64.91,333.55 L65.02,333.06 L65.12,332.57 L65.22,332.08 L65.32,331.59 L65.43,331.10 L65.53,330.60 L65.63,330.11 L65.73,329.62 L65.84,329.13 L65.94,328.64 L66.04,328.15 L66.14,327.66 L66.25,327.17 L66.35,326.68 L66.45,326.18 L66.56,325.69 L66.66,325.20 L66.76,324.71 L66.86,324.22 L66.97,323.73 L67.07,323.24 L67.17,322.75 L67.28,322.26 L67.38,321.77 L67.48,321.28 L67.59,320.79 L67.69,320.30 L67.79,319.81 L67.90,319.32 L68.00,318.83 L68.11,318.34 L68.21,317.85 L68.31,317.36 L68.42,316.87 L68.52,316.38 L68.62,315.89 L68.73,315.40 L68.83,314.91 L68.94,314.42 L69.04,313.93 L69.14,313.44 L69.25,312.95 L69.35,312.46 L69.46,311.98 L69.56,311.49 L69.66,311.00 L69.77,310.51 L69.87,310.02 L69.98,309.53 L70.08,309.04 L70.18,308.55 L70.29,308.06 L70.39,307.57 L70.50,307.09 L70.60,306.60 L70.71,306.11 L70.81,305.62 L70.92,305.13 L71.02,304.64 L71.12,304.15 L71.23,303.67 L71.33,303.18 L71.44,302.69 L71.54,302.20 L71.65,301.71 L71.75,301.22 L71.86,300.74 L71.96,300.25 L72.07,299.76 L72.17,299.27 L72.28,298.78 L72.38,298.30 L72.49,297.81 L72.59,297.32 L72.69,296.83 L72.80,296.34 L72.90,295.86 L73.01,295.37 L73.11,294.88 L73.22,294.39 L73.32,293.90 L73.43,293.42 L73.53,292.93 L73.64,292.44 L73.74,291.95 L73.85,291.47 L73.95,290.98 L74.06,290.49 L74.16,290.00 L74.27,289.52 L74.37,289.03 L74.48,288.54 L74.58,288.05 L74.69,287.57 L74.79,287.08 L74.90,286.59 L75.00,286.10 L75.11,285.62 L75.21,285.13 L75.32,284.64 L75.42,284.15 L75.53,283.67 L75.63,283.18 L75.74,282.69 L75.84,282.20 L75.95,281.72 L76.05,281.23 L76.16,280.74 L76.26,280.25 L76.37,279.77 L76.47,279.28 L76.58,278.79 L76.68,278.30 L76.79,277.82 L76.89,277.33 L77.00,276.84 L77.10,276.36 L77.21,275.87 L77.31,275.38 L77.42,274.89 L77.52,274.41 L77.63,273.92 L77.73,273.43 L77.84,272.94 L77.94,272.46 L78.05,271.97 L78.15,271.48 L78.26,270.99 L78.36,270.51 L78.47,270.02 L78.57,269.53 L78.68,269.05 L78.78,268.56 L78.88,268.07 L78.99,267.58 L79.09,267.10 L79.20,266.61 L79.30,266.12 L79.41,265.63 L79.51,265.15 L79.62,264.66 L79.72,264.17 L79.83,263.68 L79.93,263.20 L80.04,262.71 L80.14,262.22 L80.24,261.73 L80.35,261.25 L80.45,260.76 L80.56,260.27 L80.66,259.78 L80.77,259.30 L80.87,258.81 L80.97,258.32 L81.08,257.83 L81.18,257.34 L81.29,256.86 L81.39,256.37 L81.50,255.88 L81.60,255.39 L81.70,254.91 L81.81,254.42 L81.91,253.93 L82.02,253.44 L82.12,252.95 L82.22,252.47 L82.33,251.98 L82.43,251.49 L82.53,251.00 L82.64,250.51 L82.74,250.03 L82.85,249.54 L82.95,249.05 L83.05,248.56 L83.16,248.07 L83.26,247.58 L83.36,247.10 L83.47,246.61 L83.57,246.12 L83.67,245.63 L83.78,245.14 L83.88,244.65 L83.98,244.16 L84.09,243.68 L84.19,243.19 L84.29,242.70 L84.40,242.21 L84.50,241.72 L84.60,241.23 L84.70,240.74 L84.81,240.25 L84.91,239.77 L85.01,239.28 L85.11,238.79 L85.22,238.30 L85.32,237.81 L85.42,237.32 L85.53,236.83 L85.63,236.34 L85.73,235.85 L85.83,235.36 L85.93,234.87 L86.04,234.38 L86.14,233.89 L86.24,233.40 L86.34,232.91 L86.44,232.42 L86.55,231.93 L86.65,231.44 L86.75,230.95 L86.85,230.46 L86.95,229.97 L87.06,229.48 L87.16,228.99 L87.26,228.50 L87.36,228.01 L87.46,227.52 L87.56,227.03 L87.66,226.54 L87.76,226.05 L87.87,225.56 L87.97,225.07 L88.07,224.58 L88.17,224.09 L88.27,223.60 L88.37,223.11 L88.47,222.62 L88.57,222.12 L88.67,221.63 L88.77,221.14 L88.87,220.65 L88.97,220.16 L89.07,219.67 L89.17,219.18 L89.27,218.69 L89.38,218.19 L89.48,217.70 L89.58,217.21 L89.68,216.72 L89.78,216.23 L89.88,215.74 L89.98,215.24 L90.08,214.75 L90.18,214.26 L90.28,213.77 L90.38,213.28 L90.48,212.78 L90.58,212.29 L90.68,211.80 L90.78,211.31 L90.88,210.82 L90.98,210.32 L91.08,209.83 L91.18,209.34 L91.28,208.85 L91.38,208.36 L91.48,207.86 L91.59,207.37 L91.69,206.88 L91.79,206.39 L91.89,205.90 L91.99,205.40 L92.09,204.91 L92.19,204.42 L92.29,203.93 L92.39,203.43 L92.50,202.94 L92.60,202.45 L92.70,201.96 L92.80,201.47 L92.90,200.97 L93.00,200.48 L93.11,199.99 L93.21,199.50 L93.31,199.01 L93.41,198.51 L93.51,198.02 L93.62,197.53 L93.72,197.04 L93.82,196.54 L93.93,196.05 L94.03,195.56 L94.13,195.07 L94.24,194.58 L94.34,194.09 L94.44,193.59 L94.55,193.10 L94.65,192.61 L94.75,192.12 L94.86,191.63 L94.96,191.13 L95.07,190.64 L95.17,190.15 L95.28,189.66 L95.38,189.17 L95.49,188.68 L95.59,188.18 L95.70,187.69 L95.80,187.20 L95.91,186.71 L96.02,186.22 L96.12,185.73 L96.23,185.24 L96.34,184.75 L96.44,184.26 L96.55,183.76 L96.66,183.27 L96.77,182.78 L96.87,182.29 L96.98,181.80 L97.09,181.31 L97.20,180.82 L97.31,180.33 L97.42,179.84 L97.53,179.35 L97.64,178.86 L97.75,178.37 L97.86,177.88 L97.97,177.39 L98.08,176.90 L98.19,176.41 L98.30,175.92 L98.41,175.43 L98.52,174.94 L98.63,174.45 L98.75,173.96 L98.86,173.47 L98.97,172.98 L99.09,172.49 L99.20,172.00 L99.31,171.51 L99.43,171.03 L99.54,170.54 L99.66,170.05 L99.77,169.56 L99.89,169.07 L100.00,168.58 L100.12,168.09 L100.23,167.61 L100.35,167.12 L100.47,166.63 L100.59,166.14 L100.70,165.65 L100.82,165.17 L100.94,164.68 L101.06,164.19 L101.18,163.70 L101.30,163.22 L101.42,162.73 L101.54,162.24 L101.66,161.76 L101.78,161.27 L101.90,160.78 L102.02,160.30 L102.14,159.81 L102.26,159.33 L102.39,158.84 L102.51,158.35 L102.63,157.87 L102.76,157.38 L102.88,156.90 L103.01,156.41 L103.13,155.93 L103.26,155.44 L103.38,154.96 L103.51,154.47 L103.64,153.99 L103.76,153.50 L103.89,153.02 L104.02,152.54 L104.15,152.05 L104.28,151.57 L104.41,151.09 L104.54,150.60 L104.67,150.12 L104.80,149.64 L104.93,149.15 L105.06,148.67 L105.19,148.19 L105.32,147.71 L105.46,147.22 L105.59,146.74 L105.72,146.26 L105.86,145.78 L105.99,145.30 L106.13,144.82 L106.27,144.34 L106.40,143.85 L106.54,143.37 L106.68,142.89 L106.81,142.41 L106.95,141.93 L107.09,141.45 L107.23,140.97 L107.37,140.49 L107.51,140.01 L107.65,139.53 L107.79,139.06 L107.94,138.58 L108.08,138.10 L108.22,137.62 L108.37,137.14 L108.51,136.66 L108.65,136.19 L108.80,135.71 L108.95,135.23 L109.09,134.75 L109.24,134.28 L109.39,133.80 L109.53,133.32 L109.68,132.85 L109.83,132.37 L109.98,131.90 L110.13,131.42 L110.28,130.95 L110.44,130.47 L110.59,130.00 L110.74,129.52 L110.89,129.05 L111.05,128.57 L111.20,128.10 L111.36,127.63 L111.51,127.15 L111.67,126.68 L111.83,126.21 L111.98,125.73 L112.14,125.26 L112.30,124.79 L112.46,124.32 L112.62,123.84 L112.78,123.37 L112.94,122.90 L113.10,122.43 L113.27,121.96 L113.43,121.49 L113.59,121.02 L113.76,120.55 L113.92,120.08 L114.09,119.61 L114.26,119.14 L114.42,118.67 L114.59,118.20 L114.76,117.74 L114.93,117.27 L115.10,116.80 L115.27,116.33 L115.44,115.87 L115.62,115.40 L115.79,114.93 L115.96,114.46 L116.14,114.00 L116.31,113.53 L116.49,113.07 L116.66,112.60 L116.84,112.14 L117.02,111.67 L117.20,111.21 L117.38,110.74 L117.56,110.28 L117.74,109.82 L117.92,109.35 L118.10,108.89 L118.28,108.43 L118.47,107.96 L118.65,107.50 L118.84,107.04 L119.02,106.58 L119.21,106.12 L119.40,105.66 L119.58,105.20 L119.77,104.74 L119.96,104.28 L120.15,103.82 L120.35,103.36 L120.54,102.90 L120.73,102.44 L120.92,101.98 L121.12,101.52 L121.31,101.07 L121.51,100.61 L121.71,100.15 L121.91,99.70 L122.10,99.24 L122.30,98.78 L122.50,98.33 L122.70,97.87 L122.91,97.42 L123.11,96.96 L123.31,96.51 L123.52,96.05 L123.72,95.60 L123.93,95.15 L124.13,94.69 L124.34,94.24 L124.55,93.79 L124.76,93.34 L124.97,92.89 L125.18,92.43 L125.40,91.98 L125.61,91.53 L125.82,91.08 L126.04,90.64 L126.26,90.19 L126.47,89.74 L126.69,89.29 L126.91,88.84 L127.13,88.40 L127.35,87.95 L127.58,87.50 L127.80,87.06 L128.02,86.61 L128.25,86.17 L128.48,85.73 L128.71,85.28 L128.94,84.84 L129.17,84.40 L129.40,83.96 L129.63,83.52 L129.87,83.08 L130.10,82.64 L130.34,82.20 L130.58,81.76 L130.82,81.32 L131.06,80.88 L131.30,80.45 L131.54,80.01 L131.79,79.58 L132.04,79.14 L132.28,78.71 L132.53,78.28 L132.78,77.85 L133.04,77.41 L133.29,76.98 L133.54,76.55 L133.80,76.13 L134.06,75.70 L134.32,75.27 L134.58,74.84 L134.84,74.42 L135.10,73.99 L135.37,73.57 L135.64,73.15 L135.90,72.72 L136.17,72.30 L136.45,71.88 L136.72,71.46 L136.99,71.04 L137.27,70.62 L137.55,70.21 L137.83,69.79 L138.11,69.37 L138.39,68.96 L138.68,68.55 L138.97,68.13 L139.25,67.72 L139.54,67.31 L139.84,66.90 L140.13,66.49 L140.43,66.09 L140.72,65.68 L141.02,65.27 L141.32,64.87 L141.63,64.47 L141.93,64.06 L142.24,63.66 L142.55,63.26 L142.86,62.86 L143.17,62.47 L143.48,62.07 L143.80,61.67 L144.12,61.28 L144.44,60.88 L144.76,60.49 L145.09,60.10 L145.41,59.71 L145.74,59.32 L146.07,58.93 L146.40,58.55 L146.74,58.16 L147.07,57.78 L147.41,57.39 L147.75,57.01 L148.10,56.63 L148.44,56.25 L148.79,55.87 L149.14,55.50 L149.49,55.12 L149.85,54.75 L150.20,54.38 L150.56,54.01 L150.92,53.64 L151.28,53.27 L151.65,52.91 L152.02,52.55 L152.39,52.19 L152.76,51.84 L153.13,51.49 L153.51,51.14 L153.89,50.80 L154.27,50.46 L154.66,50.12 L155.04,49.79 L155.43,49.46 L155.83,49.14 L156.22,48.82 L156.62,48.50 L157.02,48.19 L157.42,47.89 L157.82,47.59 L158.23,47.30 L158.64,47.01 L159.05,46.73 L159.47,46.45 L159.88,46.18 L160.30,45.92 L160.73,45.67 L161.15,45.42 L161.58,45.17 L162.01,44.94 L162.44,44.71 L162.88,44.49 L163.32,44.28 L163.76,44.07 L164.21,43.87 L164.65,43.69 L165.10,43.51 L165.56,43.33 L166.01,43.17 L166.47,43.02 L166.93,42.87 L167.40,42.73 L167.87,42.61 L168.34,42.49 L168.81,42.38 L169.28,42.28 L169.76,42.19 L170.24,42.11 L170.72,42.04 L171.20,41.98 L171.68,41.93 L172.17,41.89 L172.65,41.86 L173.14,41.84 L173.62,41.83 L174.11,41.83 L174.59,41.83 L175.08,41.85 L175.57,41.88 L176.05,41.92 L176.54,41.97 L177.02,42.03 L177.51,42.10 L177.99,42.18 L178.47,42.27 L178.95,42.37 L179.43,42.48 L179.91,42.60 L180.38,42.73 L180.85,42.87 L181.32,43.02 L181.79,43.17 L182.26,43.34 L182.73,43.51 L183.19,43.69 L183.65,43.87 L184.11,44.07 L184.56,44.26 L185.01,44.47 L185.46,44.68 L185.91,44.90 L186.36,45.12 L186.80,45.35 L187.24,45.58 L187.68,45.82 L188.11,46.06 L188.55,46.31 L188.98,46.56 L189.41,46.82 L189.84,47.08 L190.27,47.34 L190.69,47.61 L191.12,47.88 L191.54,48.15 L191.96,48.43 L192.38,48.71 L192.80,48.99 L193.22,49.28 L193.64,49.56 L194.05,49.85 L194.47,50.15 L194.88,50.44 L195.30,50.73 L195.71,51.03 L196.12,51.33 L196.53,51.62 L196.95,51.92 L197.36,52.22 L197.77,52.52 L198.18,52.82 L198.59,53.12 L199.01,53.42 L199.42,53.72 L199.83,54.02 L200.24,54.32 L200.66,54.61 L201.07,54.91 L201.48,55.20 L201.90,55.50 L202.31,55.79 L202.73,56.08 L203.15,56.36 L203.57,56.65 L203.98,56.93 L204.40,57.21 L204.83,57.49 L205.25,57.76 L205.67,58.03 L206.09,58.31 L206.52,58.57 L206.95,58.84 L207.37,59.10 L207.80,59.37 L208.23,59.63 L208.66,59.89 L209.09,60.14 L209.52,60.40 L209.95,60.65 L210.38,60.90 L210.82,61.15 L211.25,61.39 L211.69,61.64 L212.12,61.88 L212.56,62.12 L213.00,62.36 L213.43,62.59 L213.87,62.83 L214.31,63.06 L214.75,63.29 L215.20,63.52 L215.64,63.75 L216.08,63.98 L216.52,64.20 L216.97,64.43 L217.41,64.65 L217.86,64.87 L218.31,65.09 L218.75,65.30 L219.20,65.52 L219.65,65.73 L220.10,65.94 L220.55,66.16 L221.00,66.36 L221.45,66.57 L221.90,66.78 L222.35,66.98 L222.80,67.19 L223.26,67.39 L223.71,67.59 L224.17,67.79 L224.62,67.99 L225.08,68.19 L225.53,68.38 L225.99,68.58 L226.45,68.77 L226.90,68.97 L227.36,69.16 L227.82,69.35 L228.28,69.54 L228.74,69.73 L229.20,69.91 L229.66,70.10 L230.12,70.29 L230.58,70.47 L231.05,70.65 L231.51,70.84 L231.97,71.02 L232.44,71.20 L232.90,71.38 L233.36,71.56 L233.83,71.74 L234.29,71.92 L234.76,72.09 L235.22,72.27 L235.69,72.45 L236.16,72.62 L236.62,72.79 L237.09,72.97 L237.56,73.14 L238.03,73.31 L238.49,73.48 L238.96,73.65 L239.43,73.82 L239.90,73.99 L240.37,74.16 L240.84,74.33 L241.31,74.50 L241.78,74.67 L242.25,74.83 L242.72,75.00 L243.19,75.16 L243.66,75.33 L244.13,75.49 L244.61,75.66 L245.08,75.82 L245.55,75.98 L246.02,76.15 L246.50,76.31 L246.97,76.47 L247.44,76.63 L247.92,76.79 L248.39,76.95 L248.87,77.11 L249.34,77.27 L249.81,77.43 L250.29,77.59 L250.76,77.74 L251.24,77.90 L251.71,78.06 L252.19,78.22 L252.66,78.37 L253.14,78.53 L253.62,78.68 L254.09,78.84 L254.57,78.99 L255.05,79.15 L255.52,79.30 L256.00,79.46 L256.48,79.61 L256.95,79.77 L257.43,79.92 L257.91,80.07 L258.38,80.23 L258.86,80.38 L259.34,80.53 L259.82,80.68 L260.29,80.83 L260.77,80.99 L261.25,81.14 L261.73,81.29 L262.21,81.44 L262.68,81.59 L263.16,81.74 L263.64,81.89 L264.12,82.05 L264.60,82.20 L265.08,82.35 L265.55,82.50 L266.03,82.65 L266.51,82.80 L266.99,82.95 L267.47,83.10 L267.95,83.25 L268.43,83.40 L268.90,83.55 L269.38,83.70 L269.86,83.85 L270.34,84.00 L270.82,84.14 L271.30,84.29 L271.78,84.44 L272.26,84.59 L272.74,84.74 L273.22,84.88 L273.70,85.03 L274.17,85.18 L274.65,85.32 L275.13,85.47 L275.61,85.62 L276.09,85.76 L276.57,85.91 L277.05,86.05 L277.53,86.20 L278.01,86.34 L278.49,86.49 L278.97,86.63 L279.45,86.77 L279.93,86.91 L280.41,87.06 L280.90,87.20 L281.38,87.34 L281.86,87.48 L282.34,87.62 L282.82,87.76 L283.30,87.90 L283.78,88.04 L284.26,88.18 L284.75,88.31 L285.23,88.45 L285.71,88.59 L286.19,88.72 L286.67,88.86 L287.15,88.99 L287.64,89.13 L288.12,89.26 L288.60,89.39 L289.08,89.52 L289.57,89.66 L290.05,89.79 L290.53,89.92 L291.02,90.05 L291.50,90.17 L291.98,90.30 L292.47,90.43 L292.95,90.56 L293.44,90.68 L293.92,90.81 L294.40,90.93 L294.89,91.05 L295.37,91.18 L295.86,91.30 L296.34,91.42 L296.83,91.54 L297.31,91.66 L297.80,91.78 L298.29,91.89 L298.77,92.01 L299.26,92.13 L299.74,92.24 L300.23,92.36 L300.72,92.47 L301.20,92.58 L301.69,92.69 L302.18,92.80 L302.67,92.91 L303.15,93.02 L303.64,93.13 L304.13,93.23 L304.62,93.34 L305.11,93.44 L305.59,93.55 L306.08,93.65 L306.57,93.75 L307.06,93.85 L307.55,93.95 L308.04,94.05 L308.53,94.14 L309.02,94.24 L309.51,94.33 L310.00,94.43 L310.49,94.52 L310.98,94.61 L311.47,94.70 L311.97,94.79 L312.46,94.88 L312.95,94.97 L313.44,95.06 L313.93,95.14 L314.42,95.23 L314.92,95.31 L315.41,95.40 L315.90,95.48 L316.39,95.57 L316.89,95.65 L317.38,95.73 L317.87,95.81 L318.37,95.89 L318.86,95.97 L319.35,96.05 L319.85,96.13 L320.34,96.20 L320.83,96.28 L321.33,96.36 L321.82,96.43 L322.31,96.51 L322.81,96.58 L323.30,96.66 L323.80,96.73 L324.29,96.80 L324.79,96.88 L325.28,96.95 L325.78,97.02 L326.27,97.10 L326.77,97.17 L327.26,97.24 L327.75,97.31 L328.25,97.38 L328.74,97.45 L329.24,97.52 L329.74,97.59 L330.23,97.66 L330.73,97.73 L331.22,97.80 L331.72,97.87 L332.21,97.94 L332.71,98.01 L333.20,98.08 L333.70,98.14 L334.19,98.21 L334.69,98.28 L335.18,98.35 L335.68,98.42 L336.17,98.49 L336.67,98.55 L337.16,98.62 L337.66,98.69 L338.16,98.76 L338.65,98.82 L339.15,98.89 L339.64,98.96 L340.14,99.03 L340.63,99.09 L341.13,99.16 L341.62,99.23 L342.12,99.29 L342.62,99.36 L343.11,99.43 L343.61,99.49 L344.10,99.56 L344.60,99.62 L345.10,99.69 L345.59,99.76 L346.09,99.82 L346.58,99.89 L347.08,99.95 L347.57,100.02 L348.07,100.08 L348.57,100.15 L349.06,100.21 L349.56,100.28 L350.05,100.34 L350.55,100.41 L351.05,100.47 L351.54,100.53 L352.04,100.60 L352.53,100.66 L353.03,100.73 L353.53,100.79 L354.02,100.85 L354.52,100.92 L355.02,100.98 L355.51,101.04 L356.01,101.11 L356.50,101.17 L357.00,101.23 L357.50,101.29 L357.99,101.36 L358.49,101.42 L358.99,101.48 L359.48,101.54 L359.98,101.61 L360.47,101.67 L360.97,101.73 L361.47,101.79 L361.96,101.85 L362.46,101.91 L362.96,101.97 L363.45,102.04 L363.95,102.10 L364.45,102.16 L364.94,102.22 L365.44,102.28 L365.94,102.34 L366.43,102.40 L366.93,102.46 L367.43,102.52 L367.92,102.58 L368.42,102.64 L368.92,102.70 L369.41,102.76 L369.91,102.82 L370.41,102.88 L370.90,102.94 L371.40,103.00 L371.90,103.06 L372.39,103.11 L372.89,103.17 L373.39,103.23 L373.88,103.29 L374.38,103.35 L374.88,103.41 L375.37,103.46 L375.87,103.52 L376.37,103.58 L376.86,103.64 L377.36,103.69 L377.86,103.75 L378.36,103.81 L378.85,103.87 L379.35,103.92 L379.85,103.98 L380.34,104.04 L380.84,104.09 L381.34,104.15 L381.84,104.21 L382.33,104.26 L382.83,104.32 L383.33,104.37 L383.82,104.43 L384.32,104.49 L384.82,104.54 L385.32,104.60 L385.81,104.65 L386.31,104.71 L386.81,104.76 L387.30,104.82 L387.80,104.87 L388.30,104.93 L388.80,104.98 L389.29,105.04 L389.79,105.09 L390.29,105.14 L390.79,105.20 L391.28,105.25 L391.78,105.31 L392.28,105.36 L392.78,105.41 L393.27,105.47 L393.77,105.52 L394.27,105.57 L394.77,105.62 L395.26,105.68 L395.76,105.73 L396.26,105.78 L396.76,105.84 L397.25,105.89 L397.75,105.94 L398.25,105.99 L398.75,106.04 L399.24,106.10 L399.74,106.15 L400.24,106.20 L400.74,106.25 L401.24,106.30 L401.73,106.35 L402.23,106.40 L402.73,106.45 L403.23,106.50 L403.72,106.55 L404.22,106.61 L404.72,106.66 L405.22,106.71 L405.72,106.76 L406.21,106.81 L406.71,106.86 L407.21,106.90 L407.71,106.95 L408.21,107.00 L408.70,107.05 L409.20,107.10 L409.70,107.15 L410.20,107.20 L410.69,107.25 L411.19,107.30 L411.69,107.35 L412.19,107.39 L412.69,107.44 L413.19,107.49 L413.68,107.54 L414.18,107.59 L414.68,107.63 L415.18,107.68 L415.68,107.73 L416.17,107.77 L416.67,107.82 L417.17,107.87 L417.67,107.92 L418.17,107.96 L418.66,108.01 L419.16,108.06 L419.66,108.10 L420.16,108.15 L420.66,108.19 L421.16,108.24 L421.65,108.29 L422.15,108.33 L422.65,108.38 L423.15,108.42 L423.65,108.47 L424.15,108.51 L424.64,108.56 L425.14,108.60 L425.64,108.65 L426.14,108.69 L426.64,108.73 L427.14,108.78 L427.63,108.82 L428.13,108.87 L428.63,108.91 L429.13,108.95 L429.63,109.00 L430.13,109.04 L430.62,109.08 L431.12,109.13 L431.62,109.17 L432.12,109.21 L432.62,109.26 L433.12,109.30 L433.62,109.34 L434.11,109.38 L434.61,109.43 L435.11,109.47 L435.61,109.51 L436.11,109.55 L436.61,109.59 L437.11,109.64 L437.60,109.68 L438.10,109.72 L438.60,109.76 L439.10,109.80 L439.60,109.84 L440.10,109.88 L440.60,109.92 L441.10,109.96 L441.59,110.00 L442.09,110.04 L442.59,110.08 L443.09,110.12 L443.59,110.16 L444.09,110.20 L444.59,110.24 L445.09,110.28 L445.58,110.32 L446.08,110.36 L446.58,110.40 L447.08,110.44 L447.58,110.48 L448.08,110.51 L448.58,110.55 L449.08,110.59 L449.57,110.63 L450.07,110.67 L450.57,110.70 L451.07,110.74 L451.57,110.78 L452.07,110.82 L452.57,110.85 L453.07,110.89 L453.57,110.93 L454.06,110.97 L454.56,111.00 L455.06,111.04 L455.56,111.08 L456.06,111.11 L456.56,111.15 L457.06,111.18 L457.56,111.22 L458.06,111.26 L458.56,111.29 L459.05,111.33 L459.55,111.36 L460.05,111.40 L460.55,111.43 L461.05,111.47 L461.55,111.50 L462.05,111.54 L462.55,111.57 L463.05,111.61 L463.55,111.64 L464.05,111.67 L464.54,111.71 L465.04,111.74 L465.54,111.78 L466.04,111.81 L466.54,111.84 L467.04,111.88 L467.54,111.91 L468.04,111.94 L468.54,111.97 L469.04,112.01 L469.54,112.04 L470.04,112.07 L470.54,112.10 L471.03,112.14 L471.53,112.17 L472.03,112.20 L472.53,112.23 L473.03,112.26 L473.53,112.30 L474.03,112.33 L474.53,112.36 L475.03,112.39 L475.53,112.42 L476.03,112.45 L476.53,112.48 L477.03,112.51 L477.53,112.54 L478.02,112.57 L478.52,112.60 L479.02,112.63 L479.52,112.66 L480.02,112.69 L480.52,112.72 L481.02,112.75 L481.52,112.78 L482.02,112.81 L482.52,112.84 L483.02,112.87 L483.52,112.89 L484.02,112.92 L484.52,112.95 L485.02,112.98 L485.52,113.01 L486.01,113.04 L486.51,113.06 L487.01,113.09 L487.51,113.12 L488.01,113.15 L488.51,113.17 L489.01,113.20 L489.51,113.23 L490.01,113.25 L490.51,113.28 L491.01,113.31 L491.51,113.33 L492.01,113.36 L492.51,113.39 L493.01,113.41 L493.51,113.44 L494.01,113.47 L494.51,113.49 L495.01,113.52 L495.50,113.54 L496.00,113.57 L496.50,113.59 L497.00,113.62 L497.50,113.64 L498.00,113.67 L498.50,113.69 L499.00,113.72 L499.50,113.74 L500.00,113.77 L500.50,113.79 L501.00,113.82 L501.50,113.84 L502.00,113.86 L502.50,113.89 L503.00,113.91 L503.50,113.93 L504.00,113.96 L504.50,113.98 L505.00,114.00 L505.50,114.03 L506.00,114.05 L506.50,114.07 L507.00,114.10 L507.50,114.12 L507.99,114.14 L508.49,114.16 L508.99,114.19 L509.49,114.21 L509.99,114.23 L510.49,114.25 L510.99,114.28 L511.49,114.30 L511.99,114.32 L512.49,114.34 L512.99,114.36 L513.49,114.38 L513.99,114.41 L514.49,114.43 L514.99,114.45 L515.49,114.47 L515.99,114.49 L516.49,114.51 L516.99,114.53 L517.49,114.55 L517.99,114.57 L518.49,114.59 L518.99,114.61 L519.49,114.63 L519.99,114.65 L520.49,114.67 L520.99,114.69 L521.49,114.71 L521.99,114.73 L522.49,114.75 L522.99,114.77 L523.49,114.79 L523.99,114.81 L524.49,114.83 L524.99,114.85 L525.49,114.87 L525.99,114.89 L526.49,114.91 L526.99,114.93 L527.49,114.95 L527.99,114.97 L528.49,114.98 L528.99,115.00 L529.49,115.02 L529.98,115.04 L530.48,115.06 L530.98,115.08 L531.48,115.09 L531.98,115.11 L532.48,115.13 L532.98,115.15 L533.48,115.17 L533.98,115.18 L534.48,115.20 L534.98,115.22 L535.48,115.24 L535.98,115.26 L536.48,115.27 L536.98,115.29 L537.48,115.31 L537.98,115.32 L538.48,115.34 L538.98,115.36 L539.48,115.38 L539.98,115.39 L540.48,115.41 L540.98,115.43 L541.48,115.44 L541.98,115.46 L542.48,115.48 L542.98,115.49 L543.48,115.51 L543.98,115.53 L544.48,115.54 L544.98,115.56 L545.48,115.57 L545.98,115.59 L546.48,115.61 L546.98,115.62 L547.48,115.64 L547.98,115.65 L548.48,115.67 L548.98,115.69 L549.48,115.70 L549.98,115.72 L550.48,115.73 L550.98,115.75 L551.48,115.76 L551.98,115.78 L552.48,115.79 L552.98,115.81 L553.48,115.83 L553.98,115.84 L554.48,115.86 L554.98,115.87 L555.48,115.89 L555.98,115.90 L556.48,115.92 L556.98,115.93 L557.48,115.95 L557.98,115.96 L558.48,115.97 L558.98,115.99 L559.48,116.00 L559.98,116.02 L560.48,116.03 L560.98,116.05 L561.48,116.06 L561.98,116.08 L562.48,116.09 L562.98,116.11 L563.48,116.12 L563.98,116.13 L564.48,116.15 L564.98,116.16 L565.48,116.18 L565.98,116.19 L566.48,116.20 L566.98,116.22 L567.48,116.23 L567.98,116.25 L568.48,116.26 L568.98,116.27 L569.48,116.29 L569.98,116.30 L570.48,116.31 L570.98,116.33 L571.48,116.34 L571.98,116.36 L572.48,116.37 L572.98,116.38 L573.48,116.40 L573.98,116.41 L574.48,116.42 L574.98,116.44 L575.48,116.45 L575.99,116.46 L576.49,116.48 L576.99,116.49 L577.49,116.50 L577.99,116.52 L578.49,116.53 L578.99,116.54 L579.49,116.56 L579.99,116.57 L580.49,116.58 L580.99,116.60 L581.49,116.61 L581.99,116.62 L582.49,116.64 L582.99,116.65 L583.49,116.66 L583.99,116.67 L584.49,116.69 L584.99,116.70 L585.49,116.71 L585.99,116.73 L586.49,116.74 L586.99,116.75 L587.49,116.77 L587.99,116.78 L588.49,116.79 L588.99,116.80 L589.49,116.82 L589.99,116.83 L590.49,116.84 L590.99,116.86 L591.49,116.87 L591.99,116.88 L592.49,116.89 L592.99,116.91 L593.49,116.92 L593.99,116.93 L594.49,116.94 L594.99,116.96 L595.49,116.97 L595.99,116.98 L596.49,117.00 L596.99,117.01 L597.49,117.02 L597.99,117.03 L598.49,117.05 L598.99,117.06 L599.49,117.07 L599.99,117.08 L600.49,117.10 L600.99,117.11 L601.49,117.12 L601.99,117.14 L602.49,117.15 L602.99,117.16 L603.49,117.17 L603.99,117.19 L604.49,117.20 L604.99,117.21 L605.49,117.23 L605.99,117.24 L606.49,117.25 L606.99,117.26 L607.49,117.28 L607.99,117.29 L608.49,117.30 L608.99,117.31 L609.49,117.33 L609.99,117.34 L610.49,117.35 L610.99,117.37 L611.49,117.38 L611.99,117.39 L612.49,117.40 L612.99,117.42 L613.49,117.43 L613.99,117.44 L614.50,117.46 L615.00,117.47 L615.50,117.48 L616.00,117.50 L616.50,117.51 L617.00,117.52 L617.50,117.53 L618.00,117.55 L618.50,117.56 L619.00,117.57 L619.50,117.59 L620.00,117.60 L620.50,117.61 L621.00,117.63 L621.50,117.64 L622.00,117.65 L622.50,117.67 L623.00,117.68 L623.50,117.69 L624.00,117.71 L624.50,117.72 L625.00,117.73 L625.50,117.75 L626.00,117.76 L626.50,117.77 L627.00,117.79 L627.50,117.80 L628.00,117.82 L628.50,117.83 L629.00,117.84 L629.50,117.86 L630.00,117.87 L630.50,117.88 L631.00,117.90 L631.50,117.91 L632.00,117.93 L632.50,117.94 L633.00,117.95 L633.50,117.97 L634.00,117.98 L634.50,118.00 L635.00,118.01 L635.50,118.03 L636.00,118.04 L636.50,118.05 L637.00,118.07 L637.50,118.08 L638.00,118.10 L638.50,118.11 L639.00,118.13 L639.50,118.14 L640.00,118.16 L640.50,118.17 L641.00,118.18 L641.50,118.20 L642.00,118.21 L642.50,118.23 L643.00,118.24 L643.50,118.26 L644.00,118.27 L644.50,118.29 L645.00,118.30 L645.50,118.32 L646.00,118.33 L646.50,118.35 L647.00,118.37 L647.50,118.38 L648.00,118.40 L648.50,118.41 L649.00,118.43 L649.50,118.44 L650.00,118.46 L650.50,118.47 L651.00,118.49 L651.50,118.51 L652.00,118.52 L652.50,118.54 L653.00,118.55 L653.50,118.57 L654.00,118.59 L654.50,118.60 L655.00,118.62 L655.50,118.64 L656.00,118.65 L656.50,118.67 L657.00,118.69 L657.50,118.70 L658.00,118.72 L658.50,118.74 L659.00,118.75 L659.50,118.77 L660.00,118.79 L660.50,118.80 L661.00,118.82 L661.50,118.84 L662.00,118.86 L662.50,118.87 L663.00,118.89 L663.50,118.91 L664.00,118.92 L664.50,118.94 L665.00,118.96 L665.50,118.98 L666.00,119.00 L666.50,119.01 L667.00,119.03 L667.50,119.05 L668.00,119.07 L668.50,119.09 L669.00,119.11 L669.50,119.12 L670.00,119.14 L670.50,119.16 L671.00,119.18 L671.50,119.20" stroke="#FF0000" stroke-width="2.75"/>
</g>
<g stroke="#000" stroke-width="1.1">
<line x1="59.5" y1="420.00" x2="70" y2="420.00"/>
<line x1="59.5" y1="406.17" x2="64" y2="406.17"/>
<line x1="59.5" y1="392.33" x2="64" y2="392.33"/>
<line x1="59.5" y1="378.50" x2="64" y2="378.50"/>
<line x1="59.5" y1="364.67" x2="64" y2="364.67"/>
<line x1="59.5" y1="350.83" x2="70" y2="350.83"/>
<line x1="59.5" y1="337.00" x2="64" y2="337.00"/>
<line x1="59.5" y1="323.17" x2="64" y2="323.17"/>
<line x1="59.5" y1="309.33" x2="64" y2="309.33"/>
<line x1="59.5" y1="295.50" x2="64" y2="295.50"/>
<line x1="59.5" y1="281.67" x2="70" y2="281.67"/>
<line x1="59.5" y1="267.83" x2="64" y2="267.83"/>
<line x1="59.5" y1="254.00" x2="64" y2="254.00"/>
<line x1="59.5" y1="240.17" x2="64" y2="240.17"/>
<line x1="59.5" y1="226.33" x2="64" y2="226.33"/>
<line x1="59.5" y1="212.50" x2="70" y2="212.50"/>
<line x1="59.5" y1="198.67" x2="64" y2="198.67"/>
<line x1="59.5" y1="184.83" x2="64" y2="184.83"/>
<line x1="59.5" y1="171.00" x2="64" y2="171.00"/>
<line x1="59.5" y1="157.17" x2="64" y2="157.17"/>
<line x1="59.5" y1="143.33" x2="70" y2="143.33"/>
<line x1="59.5" y1="129.50" x2="64" y2="129.50"/>
<line x1="59.5" y1="115.67" x2="64" y2="115.67"/>
<line x1="59.5" y1="101.83" x2="64" y2="101.83"/>
<line x1="59.5" y1="88.00" x2="64" y2="88.00"/>
<line x1="59.5" y1="74.17" x2="70" y2="74.17"/>
<line x1="59.5" y1="60.33" x2="64" y2="60.33"/>
<line x1="59.5" y1="46.50" x2="64" y2="46.50"/>
<line x1="59.5" y1="32.67" x2="64" y2="32.67"/>
<line x1="59.5" y1="18.83" x2="64" y2="18.83"/>
<line x1="59.5" y1="5.00" x2="70" y2="5.00"/>
<line x1="64.20" y1="414" x2="64.20" y2="424"/>
<line x1="84.44" y1="420" x2="84.44" y2="424"/>
<line x1="104.69" y1="420" x2="104.69" y2="424"/>
<line x1="124.93" y1="420" x2="124.93" y2="424"/>
<line x1="145.17" y1="420" x2="145.17" y2="424"/>
<line x1="165.42" y1="414" x2="165.42" y2="424"/>
<line x1="185.66" y1="420" x2="185.66" y2="424"/>
<line x1="205.90" y1="420" x2="205.90" y2="424"/>
<line x1="226.15" y1="420" x2="226.15" y2="424"/>
<line x1="246.39" y1="420" x2="246.39" y2="424"/>
<line x1="266.63" y1="414" x2="266.63" y2="424"/>
<line x1="286.88" y1="420" x2="286.88" y2="424"/>
<line x1="307.12" y1="420" x2="307.12" y2="424"/>
<line x1="327.36" y1="420" x2="327.36" y2="424"/>
<line x1="347.61" y1="420" x2="347.61" y2="424"/>
<line x1="367.85" y1="414" x2="367.85" y2="424"/>
<line x1="388.09" y1="420" x2="388.09" y2="424"/>
<line x1="408.34" y1="420" x2="408.34" y2="424"/>
<line x1="428.58" y1="420" x2="428.58" y2="424"/>
<line x1="448.82" y1="420" x2="448.82" y2="424"/>
<line x1="469.07" y1="414" x2="469.07" y2="424"/>
<line x1="489.31" y1="420" x2="489.31" y2="424"/>
<line x1="509.55" y1="420" x2="509.55" y2="424"/>
<line x1="529.80" y1="420" x2="529.80" y2="424"/>
<line x1="550.04" y1="420" x2="550.04" y2="424"/>
<line x1="570.28" y1="414" x2="570.28" y2="424"/>
<line x1="590.53" y1="420" x2="590.53" y2="424"/>
<line x1="610.77" y1="420" x2="610.77" y2="424"/>
<line x1="631.01" y1="420" x2="631.01" y2="424"/>
<line x1="651.26" y1="420" x2="651.26" y2="424"/>
<line x1="671.50" y1="414" x2="671.50" y2="424"/>
</g>
<rect x="64.2" y="5.5" width="607.3" height="414.5" fill="none" stroke="#000" stroke-width="1.7"/>
<rect x="93.8" y="347.3" width="541.2" height="40.4" fill="#92D050" stroke="#000" stroke-width="1.6"/>
<g stroke-width="2.75" fill="none">
<line x1="133.975" y1="368" x2="174.2" y2="368" stroke="#FF0000" stroke-dasharray="6.25 10.35" stroke-linecap="round"/>
<line x1="234.3" y1="368" x2="277.3" y2="368" stroke="#00B050"/>
<line x1="336.1" y1="368" x2="379" y2="368" stroke="#0000FF"/>
<line x1="438.675" y1="368" x2="478.6" y2="368" stroke="#000" stroke-dasharray="6.25 10.35" stroke-linecap="round"/>
<line x1="539.3" y1="368" x2="582.8" y2="368" stroke="#FF0000"/>
</g>
<g font-size="15.75" fill="#000">
<text x="180.2" y="374" textLength="17.7" lengthAdjust="spacingAndGlyphs">S1</text>
<text x="281.8" y="374" textLength="17.7" lengthAdjust="spacingAndGlyphs">S2</text>
<text x="383.3" y="374" textLength="17.7" lengthAdjust="spacingAndGlyphs">S3</text>
<text x="485.0" y="374" textLength="17.7" lengthAdjust="spacingAndGlyphs">S4</text>
<text x="586.6" y="374" textLength="17.7" lengthAdjust="spacingAndGlyphs">S5</text>
</g>
<g font-size="15.75" font-weight="bold" fill="#000">
<text x="48.3" y="426.00" text-anchor="end">15</text>
<text x="48.3" y="356.83" text-anchor="end">20</text>
<text x="48.3" y="287.67" text-anchor="end">25</text>
<text x="48.3" y="218.50" text-anchor="end">30</text>
<text x="48.3" y="149.33" text-anchor="end">35</text>
<text x="48.3" y="80.17" text-anchor="end">40</text>
<text x="48.3" y="11.00" text-anchor="end">45</text>
<text x="64.20" y="448" text-anchor="middle">0</text>
<text x="165.42" y="448" text-anchor="middle">100</text>
<text x="266.63" y="448" text-anchor="middle">200</text>
<text x="367.85" y="448" text-anchor="middle">300</text>
<text x="469.07" y="448" text-anchor="middle">400</text>
<text x="570.28" y="448" text-anchor="middle">500</text>
<text x="671.50" y="448" text-anchor="middle">600</text>
</g>
<text x="368.7" y="473.6" font-size="16" text-anchor="middle" fill="#000">Time (min)</text>
<text transform="translate(12.6,274.4) rotate(-90) scale(1.07,1)" font-size="15" letter-spacing="0.25" fill="#000">Temperature <tspan dx="-1.5">(</tspan><tspan font-size="10" dy="-4.1" dx="-1.7">o</tspan><tspan dy="4.1" dx="2.4">C)</tspan></text>
</svg>
</body></html>
